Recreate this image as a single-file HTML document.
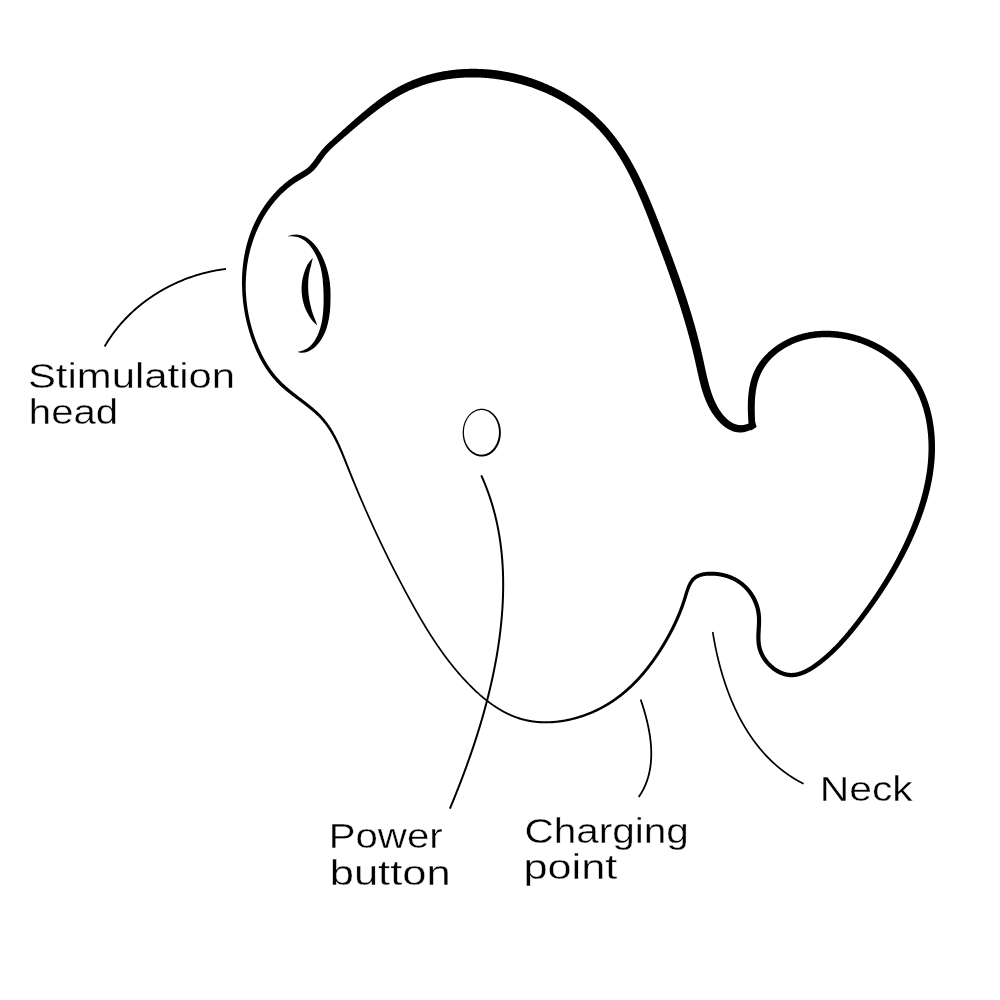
<!DOCTYPE html>
<html><head><meta charset="utf-8"><style>
html,body{margin:0;padding:0;background:#fff;}
svg{display:block;}
text{font-family:"Liberation Sans",sans-serif;fill:#000;stroke:#fff;stroke-width:0.35;}
.tx{will-change:transform;}
</style></head><body>
<svg width="1000" height="1000" viewBox="0 0 1000 1000">
<rect width="1000" height="1000" fill="#fff"/>
<g fill="#000">
<path fill-rule="nonzero" d="M755.24,425.28 755.21,424.58 755.18,423.89 755.15,423.19 755.12,422.50 755.09,421.80 755.06,421.11 755.04,420.42 755.01,419.72 754.99,419.03 754.97,418.34 754.94,417.65 754.91,416.96 754.89,416.27 754.86,415.58 754.84,414.89 754.82,414.20 754.80,413.51 754.79,412.82 754.78,412.13 754.77,411.44 754.76,410.75 754.75,410.07 754.75,409.38 754.75,408.69 754.75,408.01 754.76,407.32 754.76,406.64 754.78,405.95 754.79,405.27 754.81,404.59 754.83,403.90 754.85,403.22 754.87,402.54 754.90,401.86 754.93,401.18 754.96,400.50 755.00,399.82 755.04,399.14 755.09,398.46 755.14,397.79 755.19,397.11 755.25,396.44 755.31,395.76 755.38,395.09 755.45,394.42 755.53,393.75 755.61,393.08 755.69,392.41 755.78,391.74 755.88,391.07 755.98,390.41 756.09,389.75 756.20,389.08 756.32,388.42 756.44,387.77 756.57,387.11 756.70,386.46 756.84,385.80 756.99,385.15 757.14,384.50 757.30,383.86 757.47,383.21 757.64,382.57 757.82,381.93 758.00,381.30 758.19,380.66 758.39,380.03 758.60,379.41 758.81,378.78 759.03,378.16 759.25,377.54 759.49,376.93 759.73,376.32 759.98,375.71 760.23,375.11 760.50,374.51 760.77,373.92 761.04,373.33 761.32,372.74 761.61,372.15 761.91,371.57 762.22,370.99 762.53,370.42 762.85,369.84 763.18,369.28 763.51,368.71 763.86,368.15 764.21,367.60 764.57,367.05 764.93,366.50 765.30,365.96 765.68,365.42 766.07,364.88 766.46,364.35 766.86,363.82 767.26,363.30 767.67,362.78 768.09,362.27 768.51,361.76 768.94,361.26 769.38,360.76 769.82,360.26 770.27,359.77 770.72,359.29 771.18,358.80 771.64,358.33 772.11,357.86 772.59,357.39 773.07,356.93 773.56,356.48 774.05,356.03 774.54,355.58 775.05,355.14 775.55,354.71 776.06,354.28 776.58,353.85 777.10,353.43 777.62,353.02 778.15,352.61 778.68,352.20 779.21,351.80 779.75,351.41 780.30,351.02 780.85,350.63 781.40,350.26 781.96,349.88 782.52,349.52 783.08,349.16 783.65,348.80 784.22,348.45 784.79,348.10 785.37,347.76 785.95,347.43 786.53,347.10 787.12,346.77 787.71,346.45 788.30,346.14 788.90,345.83 789.50,345.53 790.10,345.23 790.70,344.94 791.31,344.65 791.92,344.37 792.53,344.09 793.14,343.82 793.76,343.56 794.38,343.30 795.00,343.05 795.62,342.80 796.25,342.56 796.88,342.32 797.51,342.09 798.14,341.86 798.77,341.64 799.41,341.43 800.05,341.22 800.69,341.01 801.33,340.81 801.98,340.62 802.62,340.43 803.27,340.25 803.92,340.08 804.57,339.91 805.22,339.74 805.87,339.58 806.53,339.43 807.19,339.28 807.84,339.13 808.50,338.99 809.16,338.86 809.83,338.73 810.49,338.61 811.15,338.49 811.82,338.38 812.48,338.28 813.15,338.18 813.82,338.08 814.49,337.99 815.15,337.90 815.83,337.82 816.50,337.75 817.17,337.68 817.84,337.62 818.51,337.56 819.19,337.50 819.86,337.45 820.53,337.41 821.21,337.37 821.88,337.34 822.56,337.31 823.23,337.29 823.91,337.27 824.59,337.25 825.26,337.24 825.94,337.24 826.62,337.24 827.29,337.25 827.97,337.26 828.65,337.27 829.32,337.29 830.00,337.32 830.68,337.35 831.35,337.38 832.03,337.42 832.71,337.47 833.38,337.52 834.06,337.57 834.73,337.63 835.41,337.69 836.08,337.76 836.76,337.83 837.43,337.91 838.10,337.99 838.78,338.08 839.45,338.17 840.12,338.26 840.79,338.36 841.46,338.47 842.13,338.57 842.80,338.69 843.47,338.80 844.14,338.93 844.81,339.05 845.47,339.18 846.14,339.32 846.80,339.46 847.47,339.60 848.13,339.75 848.79,339.90 849.45,340.05 850.11,340.22 850.77,340.38 851.43,340.55 852.09,340.72 852.74,340.90 853.40,341.08 854.05,341.27 854.71,341.46 855.36,341.65 856.01,341.85 856.66,342.05 857.30,342.26 857.95,342.47 858.60,342.68 859.24,342.90 859.88,343.12 860.52,343.35 861.16,343.58 861.80,343.81 862.44,344.05 863.07,344.29 863.71,344.54 864.34,344.79 864.97,345.04 865.60,345.30 866.23,345.56 866.85,345.83 867.48,346.10 868.10,346.37 868.72,346.65 869.34,346.93 869.96,347.22 870.57,347.51 871.19,347.80 871.80,348.10 872.41,348.40 873.02,348.70 873.62,349.01 874.23,349.32 874.83,349.64 875.43,349.95 876.03,350.28 876.62,350.60 877.22,350.94 877.81,351.27 878.40,351.61 878.99,351.95 879.57,352.29 880.16,352.64 880.74,353.00 881.31,353.35 881.89,353.71 882.46,354.08 883.04,354.44 883.61,354.81 884.17,355.19 884.74,355.57 885.30,355.95 885.86,356.33 886.41,356.72 886.97,357.12 887.52,357.51 888.07,357.91 888.61,358.32 889.16,358.72 889.70,359.13 890.23,359.55 890.77,359.97 891.30,360.39 891.83,360.81 892.36,361.24 892.88,361.67 893.40,362.11 893.92,362.54 894.43,362.99 894.94,363.43 895.45,363.88 895.95,364.33 896.45,364.79 896.95,365.25 897.44,365.71 897.94,366.18 898.42,366.65 898.91,367.12 899.39,367.60 899.87,368.08 900.34,368.56 900.81,369.05 901.28,369.54 901.74,370.03 902.20,370.53 902.65,371.03 903.11,371.53 903.55,372.04 904.00,372.55 904.44,373.06 904.87,373.57 905.31,374.09 905.73,374.62 906.16,375.14 906.58,375.67 906.99,376.20 907.40,376.74 907.81,377.28 908.21,377.82 908.61,378.36 909.01,378.91 909.40,379.46 909.78,380.01 910.16,380.57 910.54,381.13 910.91,381.69 911.28,382.26 911.65,382.83 912.01,383.40 912.37,383.98 912.72,384.55 913.07,385.13 913.41,385.71 913.75,386.30 914.08,386.89 914.41,387.48 914.74,388.07 915.06,388.67 915.38,389.26 915.70,389.86 916.01,390.47 916.31,391.07 916.62,391.68 916.91,392.29 917.21,392.90 917.50,393.51 917.78,394.12 918.06,394.74 918.34,395.36 918.61,395.98 918.88,396.61 919.15,397.23 919.41,397.86 919.66,398.49 919.92,399.12 920.16,399.75 920.41,400.38 920.65,401.02 920.89,401.66 921.12,402.29 921.35,402.94 921.57,403.58 921.79,404.22 922.01,404.87 922.22,405.51 922.43,406.16 922.64,406.81 922.84,407.46 923.04,408.11 923.23,408.76 923.42,409.42 923.61,410.07 923.79,410.73 923.97,411.39 924.15,412.05 924.32,412.71 924.49,413.37 924.65,414.03 924.81,414.69 924.97,415.36 925.12,416.02 925.27,416.69 925.42,417.35 925.56,418.02 925.70,418.69 925.83,419.36 925.97,420.03 926.09,420.70 926.22,421.37 926.34,422.05 926.46,422.72 926.57,423.39 926.68,424.07 926.79,424.74 926.90,425.42 927.00,426.09 927.09,426.77 927.19,427.45 927.28,428.13 927.37,428.81 927.45,429.49 927.53,430.16 927.61,430.84 927.68,431.53 927.75,432.21 927.82,432.89 927.89,433.57 927.95,434.25 928.01,434.93 928.06,435.62 928.11,436.30 928.16,436.98 928.21,437.67 928.25,438.35 928.29,439.04 928.32,439.72 928.36,440.41 928.39,441.09 928.41,441.78 928.44,442.46 928.46,443.15 928.48,443.83 928.49,444.52 928.50,445.20 928.51,445.89 928.52,446.57 928.52,447.26 928.52,447.95 928.51,448.63 928.51,449.32 928.50,450.01 928.49,450.69 928.47,451.38 928.46,452.06 928.44,452.75 928.42,453.44 928.39,454.12 928.36,454.81 928.33,455.49 928.30,456.18 928.26,456.87 928.22,457.55 928.18,458.24 928.13,458.92 928.09,459.61 928.03,460.29 927.98,460.98 927.92,461.66 927.87,462.35 927.80,463.03 927.74,463.72 927.67,464.40 927.60,465.09 927.53,465.77 927.45,466.45 927.38,467.14 927.29,467.82 927.21,468.50 927.13,469.18 927.04,469.87 926.94,470.55 926.85,471.23 926.75,471.91 926.65,472.59 926.55,473.27 926.44,473.95 926.33,474.63 926.22,475.31 926.11,475.99 925.99,476.67 925.87,477.35 925.75,478.03 925.63,478.71 925.51,479.38 925.38,480.06 925.25,480.74 925.12,481.41 924.99,482.09 924.86,482.77 924.72,483.44 924.58,484.12 924.44,484.79 924.29,485.47 924.15,486.14 924.00,486.81 923.85,487.49 923.70,488.16 923.54,488.83 923.38,489.50 923.23,490.18 923.06,490.85 922.90,491.52 922.73,492.19 922.57,492.86 922.40,493.53 922.22,494.19 922.05,494.86 921.87,495.53 921.69,496.20 921.51,496.86 921.33,497.53 921.15,498.20 920.96,498.86 920.77,499.53 920.58,500.19 920.39,500.85 920.19,501.52 920.00,502.18 919.80,502.84 919.60,503.51 919.40,504.17 919.19,504.83 918.99,505.49 918.78,506.15 918.57,506.81 918.36,507.47 918.15,508.12 917.93,508.78 917.71,509.44 917.50,510.10 917.28,510.75 917.05,511.41 916.83,512.06 916.60,512.72 916.38,513.37 916.15,514.02 915.92,514.68 915.69,515.33 915.45,515.98 915.22,516.63 914.98,517.28 914.74,517.93 914.50,518.58 914.26,519.23 914.01,519.88 913.77,520.53 913.52,521.18 913.27,521.83 913.03,522.47 912.77,523.12 912.52,523.76 912.27,524.41 912.01,525.05 911.75,525.70 911.50,526.34 911.24,526.98 910.97,527.63 910.71,528.27 910.45,528.91 910.18,529.55 909.91,530.19 909.64,530.83 909.37,531.47 909.10,532.11 908.83,532.75 908.56,533.38 908.28,534.02 908.00,534.66 907.73,535.29 907.45,535.93 907.17,536.56 906.88,537.20 906.60,537.83 906.31,538.46 906.03,539.10 905.74,539.73 905.45,540.36 905.16,540.99 904.87,541.62 904.58,542.25 904.28,542.88 903.99,543.51 903.69,544.13 903.39,544.76 903.09,545.39 902.79,546.01 902.49,546.64 902.19,547.26 901.88,547.89 901.58,548.51 901.27,549.13 900.96,549.76 900.65,550.38 900.34,551.00 900.03,551.62 899.72,552.24 899.41,552.86 899.09,553.48 898.78,554.10 898.46,554.72 898.14,555.34 897.82,555.95 897.50,556.57 897.18,557.18 896.86,557.80 896.54,558.41 896.21,559.03 895.88,559.64 895.56,560.26 895.23,560.87 894.90,561.48 894.57,562.09 894.23,562.70 893.90,563.31 893.57,563.92 893.23,564.53 892.90,565.14 892.56,565.75 892.22,566.35 891.88,566.96 891.54,567.56 891.20,568.17 890.85,568.77 890.51,569.38 890.16,569.98 889.82,570.59 889.47,571.19 889.12,571.79 888.77,572.39 888.42,572.99 888.07,573.59 887.72,574.19 887.36,574.79 887.01,575.39 886.65,575.98 886.29,576.58 885.94,577.18 885.58,577.77 885.22,578.37 884.86,578.96 884.49,579.56 884.13,580.15 883.77,580.74 883.40,581.34 883.03,581.93 882.67,582.52 882.30,583.11 881.93,583.70 881.56,584.29 881.19,584.88 880.82,585.47 880.44,586.05 880.07,586.64 879.70,587.23 879.32,587.81 878.94,588.40 878.57,588.98 878.19,589.57 877.81,590.15 877.43,590.73 877.05,591.32 876.66,591.90 876.28,592.48 875.90,593.06 875.51,593.64 875.13,594.22 874.74,594.80 874.35,595.38 873.96,595.95 873.57,596.53 873.18,597.11 872.79,597.68 872.40,598.26 872.01,598.83 871.61,599.41 871.22,599.98 870.82,600.55 870.42,601.13 870.03,601.70 869.63,602.27 869.23,602.84 868.83,603.41 868.43,603.98 868.02,604.55 867.62,605.12 867.22,605.68 866.81,606.25 866.41,606.82 866.00,607.38 865.59,607.95 865.19,608.51 864.78,609.08 864.37,609.64 863.96,610.21 863.55,610.77 863.14,611.33 862.72,611.89 862.31,612.45 861.90,613.01 861.48,613.57 861.07,614.13 860.65,614.69 860.23,615.25 859.82,615.81 859.40,616.37 858.98,616.92 858.56,617.48 858.14,618.03 857.72,618.59 857.29,619.14 856.87,619.70 856.45,620.25 856.02,620.80 855.60,621.36 855.17,621.91 854.75,622.46 854.32,623.01 853.89,623.56 853.46,624.11 853.03,624.66 852.60,625.20 852.17,625.75 851.74,626.30 851.31,626.84 850.87,627.38 850.44,627.93 850.00,628.47 849.57,629.01 849.13,629.55 848.69,630.09 848.25,630.62 847.81,631.16 847.36,631.70 846.92,632.23 846.48,632.76 846.03,633.30 845.58,633.83 845.13,634.36 844.68,634.88 844.23,635.41 843.78,635.94 843.33,636.46 842.87,636.98 842.42,637.51 841.96,638.03 841.50,638.55 841.04,639.06 840.57,639.58 840.11,640.09 839.64,640.61 839.18,641.12 838.71,641.63 838.24,642.13 837.77,642.64 837.29,643.14 836.82,643.65 836.34,644.15 835.86,644.65 835.38,645.15 834.90,645.64 834.42,646.14 833.93,646.63 833.44,647.12 832.95,647.61 832.46,648.09 831.97,648.58 831.48,649.06 830.98,649.54 830.48,650.02 829.98,650.50 829.48,650.97 828.98,651.45 828.47,651.92 827.96,652.38 827.45,652.85 826.94,653.31 826.43,653.78 825.91,654.24 825.40,654.69 824.88,655.15 824.36,655.60 823.83,656.05 823.31,656.50 822.78,656.94 822.25,657.39 821.72,657.83 821.19,658.27 820.66,658.70 820.12,659.14 819.58,659.57 819.04,660.00 818.50,660.42 817.96,660.85 817.41,661.27 816.86,661.68 816.32,662.10 815.77,662.51 815.21,662.92 814.66,663.32 814.10,663.72 813.54,664.11 812.98,664.50 812.42,664.89 811.86,665.27 811.29,665.65 810.72,666.02 810.14,666.38 809.57,666.74 808.99,667.09 808.41,667.44 807.82,667.77 807.23,668.11 806.64,668.43 806.05,668.75 805.45,669.06 804.86,669.36 804.25,669.65 803.65,669.93 803.04,670.20 802.43,670.46 801.81,670.72 801.20,670.96 800.58,671.18 799.95,671.40 799.33,671.61 798.70,671.80 798.07,671.98 797.44,672.14 796.80,672.29 796.17,672.43 795.53,672.55 794.89,672.65 794.25,672.74 793.62,672.81 792.98,672.86 792.34,672.90 791.70,672.92 791.06,672.92 790.42,672.90 789.79,672.86 789.15,672.81 788.52,672.73 787.88,672.64 787.25,672.53 786.62,672.41 785.99,672.26 785.36,672.10 784.74,671.93 784.12,671.73 783.50,671.53 782.89,671.31 782.28,671.07 781.68,670.82 781.08,670.56 780.49,670.28 779.90,669.99 779.32,669.69 778.74,669.37 778.17,669.05 777.60,668.71 777.04,668.36 776.49,668.00 775.94,667.63 775.40,667.25 774.87,666.85 774.34,666.45 773.83,666.04 773.32,665.62 772.81,665.18 772.32,664.74 771.83,664.29 771.35,663.84 770.87,663.37 770.41,662.90 769.95,662.42 769.50,661.93 769.06,661.43 768.63,660.92 768.21,660.41 767.80,659.89 767.40,659.36 767.00,658.83 766.62,658.29 766.24,657.74 765.88,657.19 765.52,656.63 765.18,656.07 764.85,655.50 764.53,654.92 764.21,654.34 763.91,653.75 763.63,653.15 763.35,652.56 763.09,651.95 762.84,651.35 762.60,650.73 762.37,650.12 762.16,649.50 761.96,648.87 761.78,648.25 761.61,647.62 761.45,646.98 761.31,646.34 761.18,645.70 761.07,645.05 760.96,644.40 760.87,643.74 760.79,643.09 760.72,642.42 760.67,641.76 760.62,641.09 760.58,640.42 760.55,639.75 760.53,639.07 760.51,638.40 760.51,637.72 760.51,637.04 760.51,636.36 760.52,635.67 760.54,634.99 760.56,634.30 760.59,633.61 760.62,632.92 760.65,632.23 760.69,631.54 760.72,630.85 760.76,630.15 760.80,629.45 760.84,628.75 760.88,628.05 760.92,627.35 760.96,626.65 760.99,625.94 761.03,625.23 761.06,624.52 761.08,623.81 761.11,623.10 761.13,622.39 761.14,621.67 761.15,620.95 761.15,620.23 761.14,619.51 761.13,618.78 761.10,618.06 761.07,617.33 761.03,616.60 760.98,615.88 760.91,615.15 760.84,614.42 760.75,613.69 760.66,612.96 760.55,612.24 760.43,611.51 760.30,610.79 760.15,610.07 760.00,609.36 759.83,608.64 759.66,607.93 759.47,607.22 759.28,606.52 759.07,605.82 758.85,605.12 758.62,604.42 758.38,603.73 758.13,603.04 757.87,602.36 757.60,601.68 757.32,601.00 757.02,600.33 756.72,599.66 756.41,599.00 756.09,598.35 755.76,597.69 755.42,597.05 755.07,596.40 754.70,595.77 754.33,595.14 753.95,594.51 753.55,593.90 753.15,593.29 752.74,592.68 752.32,592.08 751.89,591.49 751.45,590.91 751.00,590.33 750.54,589.76 750.08,589.20 749.60,588.64 749.12,588.09 748.63,587.55 748.13,587.01 747.62,586.49 747.11,585.97 746.59,585.45 746.07,584.94 745.53,584.44 744.99,583.95 744.44,583.47 743.88,583.00 743.32,582.53 742.75,582.07 742.17,581.63 741.58,581.19 740.99,580.76 740.39,580.34 739.78,579.93 739.17,579.53 738.55,579.14 737.92,578.76 737.29,578.39 736.65,578.03 736.01,577.68 735.36,577.34 734.71,577.01 734.05,576.69 733.39,576.38 732.72,576.08 732.05,575.80 731.37,575.52 730.69,575.25 730.01,575.00 729.33,574.75 728.64,574.51 727.94,574.29 727.25,574.07 726.55,573.86 725.85,573.66 725.15,573.48 724.44,573.30 723.74,573.13 723.03,572.97 722.32,572.82 721.60,572.68 720.89,572.55 720.17,572.43 719.46,572.31 718.74,572.21 718.02,572.12 717.30,572.03 716.58,571.95 715.86,571.89 715.13,571.83 714.41,571.78 713.69,571.74 712.96,571.71 712.24,571.68 711.51,571.67 710.79,571.67 710.06,571.68 709.33,571.70 708.60,571.73 707.87,571.77 707.14,571.82 706.41,571.89 705.68,571.97 704.95,572.06 704.21,572.17 703.48,572.30 702.75,572.44 702.02,572.60 701.29,572.78 700.56,572.98 699.84,573.21 699.12,573.45 698.41,573.72 697.70,574.02 697.00,574.35 696.31,574.70 695.64,575.08 694.98,575.49 694.33,575.93 693.70,576.40 693.10,576.91 692.51,577.44 691.96,577.99 691.43,578.58 690.94,579.18 690.47,579.80 690.04,580.43 689.63,581.06 689.24,581.71 688.88,582.36 688.53,583.02 688.20,583.68 687.89,584.35 687.58,585.01 687.29,585.68 687.01,586.35 686.74,587.03 686.48,587.70 686.23,588.38 685.99,589.05 685.76,589.73 685.53,590.41 685.31,591.09 685.10,591.77 684.89,592.44 684.68,593.12 684.48,593.80 684.28,594.47 684.08,595.14 683.88,595.81 683.68,596.48 683.48,597.15 683.28,597.82 683.08,598.48 682.87,599.14 682.66,599.80 682.45,600.47 682.24,601.13 682.02,601.78 681.80,602.44 681.58,603.10 681.36,603.76 681.13,604.41 680.90,605.07 680.67,605.72 680.44,606.38 680.20,607.03 679.96,607.68 679.72,608.33 679.48,608.98 679.23,609.63 678.98,610.28 678.73,610.92 678.47,611.57 678.22,612.21 677.96,612.86 677.70,613.50 677.43,614.14 677.17,614.79 676.90,615.43 676.63,616.06 676.35,616.70 676.08,617.34 675.80,617.98 675.52,618.61 675.24,619.25 674.95,619.88 674.67,620.52 674.38,621.15 674.09,621.78 673.79,622.41 673.50,623.04 673.20,623.67 672.90,624.29 672.60,624.92 672.30,625.55 671.99,626.17 671.68,626.79 671.37,627.42 671.06,628.04 670.75,628.66 670.43,629.28 670.12,629.90 669.80,630.52 669.48,631.13 669.15,631.75 668.83,632.37 668.50,632.98 668.17,633.59 667.84,634.21 667.51,634.82 667.18,635.43 666.84,636.04 666.51,636.65 666.17,637.26 665.83,637.87 665.49,638.47 665.15,639.08 664.80,639.68 664.45,640.29 664.10,640.89 663.75,641.49 663.40,642.09 663.05,642.69 662.69,643.29 662.34,643.89 661.98,644.49 661.62,645.08 661.26,645.68 660.90,646.27 660.53,646.87 660.17,647.46 659.80,648.05 659.43,648.64 659.06,649.23 658.68,649.82 658.31,650.40 657.93,650.99 657.56,651.57 657.18,652.16 656.80,652.74 656.41,653.32 656.03,653.90 655.64,654.48 655.25,655.05 654.86,655.63 654.47,656.21 654.08,656.78 653.68,657.35 653.29,657.92 652.89,658.49 652.49,659.06 652.08,659.63 651.68,660.19 651.27,660.76 650.87,661.32 650.46,661.88 650.04,662.44 649.63,663.00 649.21,663.56 648.80,664.11 648.38,664.67 647.96,665.22 647.53,665.77 647.11,666.32 646.68,666.87 646.25,667.42 645.82,667.96 645.39,668.50 644.95,669.05 644.51,669.59 644.08,670.13 643.63,670.66 643.19,671.20 642.75,671.73 642.30,672.26 641.85,672.79 641.40,673.32 640.95,673.85 640.49,674.37 640.03,674.89 639.57,675.42 639.11,675.93 638.65,676.45 638.18,676.97 637.72,677.48 637.25,677.99 636.77,678.50 636.30,679.01 635.82,679.51 635.35,680.02 634.87,680.52 634.38,681.02 633.90,681.51 633.41,682.01 632.92,682.50 632.43,682.99 631.94,683.48 631.44,683.96 630.95,684.45 630.45,684.93 629.94,685.41 629.44,685.88 628.93,686.36 628.43,686.83 627.91,687.30 627.40,687.77 626.89,688.23 626.37,688.70 625.85,689.16 625.33,689.62 624.81,690.07 624.29,690.53 623.76,690.98 623.23,691.43 622.70,691.87 622.17,692.32 621.63,692.76 621.09,693.19 620.55,693.63 620.01,694.06 619.47,694.49 618.92,694.92 618.37,695.34 617.82,695.76 617.27,696.18 616.72,696.60 616.16,697.01 615.60,697.42 615.04,697.83 614.47,698.23 613.91,698.63 613.34,699.03 612.77,699.43 612.20,699.82 611.62,700.21 611.05,700.59 610.47,700.97 609.89,701.35 609.31,701.73 608.72,702.10 608.14,702.47 607.55,702.84 606.96,703.20 606.37,703.56 605.77,703.92 605.18,704.27 604.58,704.62 603.98,704.97 603.38,705.32 602.77,705.66 602.17,705.99 601.56,706.33 600.95,706.66 600.34,706.98 599.73,707.31 599.11,707.63 598.49,707.94 597.87,708.25 597.25,708.56 596.63,708.87 596.01,709.17 595.38,709.47 594.75,709.76 594.12,710.05 593.49,710.34 592.86,710.63 592.23,710.91 591.59,711.19 590.95,711.46 590.31,711.73 589.67,712.00 589.03,712.26 588.39,712.52 587.75,712.78 587.10,713.03 586.45,713.28 585.80,713.53 585.15,713.77 584.50,714.01 583.85,714.24 583.20,714.48 582.54,714.70 581.89,714.93 581.23,715.15 580.57,715.37 579.91,715.58 579.25,715.79 578.59,716.00 577.93,716.21 577.26,716.41 576.60,716.61 575.93,716.80 575.26,716.99 574.60,717.18 573.93,717.36 573.26,717.54 572.59,717.72 571.91,717.89 571.24,718.06 570.57,718.22 569.89,718.38 569.22,718.54 568.54,718.69 567.86,718.84 567.18,718.98 566.50,719.12 565.82,719.26 565.14,719.39 564.46,719.52 563.78,719.64 563.09,719.76 562.41,719.87 561.73,719.98 561.04,720.08 560.35,720.19 559.67,720.28 558.98,720.37 558.29,720.46 557.60,720.55 556.91,720.63 556.23,720.70 555.54,720.77 554.85,720.84 554.15,720.90 553.46,720.96 552.77,721.01 552.08,721.06 551.39,721.10 550.70,721.14 550.01,721.17 549.31,721.20 548.62,721.23 547.93,721.25 547.23,721.26 546.54,721.27 545.85,721.28 545.16,721.28 544.46,721.28 543.77,721.27 543.08,721.25 542.39,721.23 541.69,721.21 541.00,721.18 540.31,721.14 539.62,721.10 538.93,721.06 538.24,721.01 537.55,720.95 536.86,720.89 536.17,720.82 535.48,720.75 534.79,720.67 534.11,720.59 533.42,720.50 532.73,720.41 532.05,720.31 531.36,720.21 530.68,720.10 530.00,719.98 529.32,719.86 528.64,719.73 527.96,719.60 527.28,719.46 526.61,719.31 525.93,719.16 525.26,719.00 524.59,718.84 523.92,718.67 523.25,718.50 522.58,718.32 521.91,718.13 521.25,717.94 520.58,717.75 519.92,717.54 519.26,717.33 518.61,717.12 517.95,716.90 517.29,716.68 516.64,716.45 515.99,716.21 515.34,715.97 514.69,715.72 514.05,715.47 513.41,715.22 512.76,714.95 512.12,714.69 511.49,714.42 510.85,714.14 510.22,713.86 509.59,713.57 508.96,713.28 508.33,712.99 507.70,712.69 507.08,712.39 506.46,712.08 505.84,711.77 505.22,711.45 504.61,711.13 503.99,710.80 503.38,710.47 502.77,710.14 502.17,709.80 501.56,709.46 500.96,709.11 500.36,708.76 499.76,708.41 499.17,708.05 498.57,707.69 497.98,707.32 497.39,706.96 496.81,706.58 496.22,706.21 495.64,705.83 495.06,705.44 494.48,705.06 493.91,704.67 493.33,704.27 492.76,703.88 492.19,703.48 491.63,703.08 491.06,702.67 490.50,702.26 489.94,701.85 489.38,701.44 488.82,701.02 488.26,700.60 487.71,700.18 487.16,699.75 486.61,699.32 486.07,698.89 485.52,698.45 484.98,698.02 484.44,697.58 483.90,697.13 483.37,696.69 482.84,696.24 482.30,695.79 481.77,695.34 481.25,694.89 480.72,694.43 480.20,693.97 479.67,693.51 479.15,693.05 478.63,692.58 478.12,692.11 477.60,691.64 477.09,691.17 476.58,690.70 476.07,690.22 475.56,689.75 475.05,689.27 474.55,688.79 474.05,688.30 473.54,687.82 473.05,687.33 472.55,686.84 472.05,686.35 471.56,685.86 471.06,685.37 470.57,684.87 470.08,684.38 469.59,683.88 469.11,683.38 468.62,682.88 468.14,682.37 467.66,681.87 467.18,681.36 466.70,680.86 466.22,680.35 465.74,679.84 465.27,679.33 464.79,678.82 464.32,678.30 463.85,677.79 463.38,677.27 462.91,676.75 462.45,676.23 461.98,675.71 461.52,675.19 461.06,674.67 460.60,674.14 460.14,673.62 459.68,673.09 459.22,672.56 458.77,672.03 458.31,671.50 457.86,670.97 457.41,670.44 456.96,669.91 456.51,669.37 456.06,668.83 455.62,668.30 455.17,667.76 454.73,667.22 454.29,666.68 453.85,666.14 453.41,665.59 452.97,665.05 452.54,664.50 452.10,663.96 451.67,663.41 451.24,662.86 450.80,662.31 450.37,661.76 449.95,661.21 449.52,660.66 449.09,660.11 448.67,659.55 448.24,659.00 447.82,658.44 447.40,657.88 446.98,657.33 446.56,656.77 446.15,656.21 445.73,655.64 445.32,655.08 444.90,654.52 444.49,653.96 444.08,653.39 443.67,652.83 443.26,652.26 442.85,651.69 442.45,651.12 442.04,650.56 441.64,649.99 441.23,649.42 440.83,648.84 440.43,648.27 440.03,647.70 439.63,647.12 439.24,646.55 438.84,645.97 438.45,645.40 438.05,644.82 437.66,644.24 437.27,643.67 436.88,643.09 436.49,642.51 436.10,641.93 435.71,641.34 435.32,640.76 434.94,640.18 434.55,639.60 434.17,639.01 433.79,638.43 433.41,637.84 433.03,637.26 432.65,636.67 432.27,636.08 431.89,635.49 431.51,634.91 431.14,634.32 430.76,633.73 430.39,633.14 430.01,632.54 429.64,631.95 429.27,631.36 428.90,630.77 428.53,630.17 428.16,629.58 427.80,628.99 427.43,628.39 427.06,627.80 426.70,627.20 426.33,626.60 425.97,626.01 425.61,625.41 425.25,624.81 424.88,624.21 424.52,623.61 424.16,623.01 423.81,622.41 423.45,621.81 423.09,621.21 422.73,620.61 422.38,620.01 422.02,619.41 421.67,618.80 421.32,618.20 420.96,617.60 420.61,616.99 420.26,616.39 419.91,615.78 419.56,615.18 419.21,614.57 418.86,613.97 418.51,613.36 418.16,612.75 417.82,612.15 417.47,611.54 417.12,610.93 416.78,610.32 416.43,609.71 416.09,609.10 415.74,608.50 415.40,607.89 415.06,607.28 414.72,606.67 414.38,606.06 414.03,605.44 413.69,604.83 413.35,604.22 413.01,603.61 412.68,603.00 412.34,602.39 412.00,601.77 411.66,601.16 411.32,600.55 410.99,599.93 410.65,599.32 410.31,598.71 409.98,598.09 409.64,597.48 409.31,596.87 408.97,596.25 408.64,595.64 408.31,595.02 407.97,594.41 407.64,593.79 407.31,593.17 406.98,592.56 406.64,591.94 406.31,591.33 405.98,590.71 405.65,590.09 405.32,589.48 404.99,588.86 404.66,588.24 404.33,587.62 404.00,587.01 403.68,586.39 403.35,585.77 403.02,585.15 402.69,584.53 402.37,583.92 402.04,583.30 401.71,582.68 401.39,582.06 401.06,581.44 400.74,580.82 400.41,580.20 400.09,579.58 399.77,578.96 399.44,578.34 399.12,577.72 398.80,577.10 398.47,576.48 398.15,575.85 397.83,575.23 397.51,574.61 397.19,573.99 396.87,573.37 396.55,572.74 396.23,572.12 395.91,571.50 395.59,570.88 395.27,570.25 394.96,569.63 394.64,569.01 394.32,568.38 394.00,567.76 393.69,567.14 393.37,566.51 393.06,565.89 392.74,565.26 392.42,564.64 392.11,564.01 391.80,563.39 391.48,562.76 391.17,562.14 390.86,561.51 390.54,560.88 390.23,560.26 389.92,559.63 389.61,559.00 389.30,558.38 388.99,557.75 388.68,557.12 388.37,556.50 388.06,555.87 387.75,555.24 387.44,554.61 387.13,553.99 386.82,553.36 386.51,552.73 386.21,552.10 385.90,551.47 385.59,550.84 385.29,550.21 384.98,549.58 384.68,548.95 384.37,548.32 384.07,547.69 383.76,547.06 383.46,546.43 383.15,545.80 382.85,545.17 382.55,544.54 382.25,543.91 381.94,543.28 381.64,542.65 381.34,542.02 381.04,541.39 380.74,540.75 380.44,540.12 380.14,539.49 379.84,538.86 379.54,538.22 379.24,537.59 378.94,536.96 378.65,536.33 378.35,535.69 378.05,535.06 377.76,534.42 377.46,533.79 377.16,533.16 376.87,532.52 376.57,531.89 376.28,531.25 375.98,530.62 375.69,529.98 375.39,529.35 375.10,528.71 374.81,528.08 374.52,527.44 374.22,526.81 373.93,526.17 373.64,525.53 373.35,524.90 373.06,524.26 372.77,523.63 372.48,522.99 372.19,522.35 371.90,521.71 371.61,521.08 371.32,520.44 371.03,519.80 370.75,519.16 370.46,518.53 370.17,517.89 369.88,517.25 369.60,516.61 369.31,515.97 369.03,515.33 368.74,514.69 368.46,514.06 368.17,513.42 367.89,512.78 367.60,512.14 367.32,511.50 367.04,510.86 366.76,510.22 366.47,509.58 366.19,508.94 365.91,508.29 365.63,507.65 365.35,507.01 365.08,506.37 364.80,505.73 364.52,505.09 364.24,504.44 363.96,503.80 363.69,503.16 363.41,502.52 363.13,501.87 362.86,501.23 362.58,500.59 362.31,499.94 362.03,499.30 361.76,498.66 361.48,498.01 361.21,497.37 360.94,496.72 360.66,496.08 360.39,495.44 360.12,494.79 359.85,494.15 359.57,493.50 359.30,492.86 359.03,492.21 358.76,491.57 358.49,490.92 358.22,490.28 357.95,489.63 357.68,488.98 357.42,488.34 357.15,487.69 356.88,487.04 356.62,486.40 356.35,485.75 356.08,485.10 355.82,484.45 355.55,483.81 355.29,483.16 355.02,482.51 354.76,481.86 354.50,481.21 354.23,480.57 353.97,479.92 353.71,479.27 353.45,478.62 353.18,477.97 352.92,477.32 352.66,476.67 352.40,476.02 352.14,475.37 351.88,474.73 351.62,474.08 351.36,473.43 351.10,472.78 350.84,472.13 350.58,471.48 350.33,470.82 350.07,470.17 349.81,469.52 349.55,468.87 349.30,468.22 349.04,467.57 348.79,466.92 348.53,466.27 348.28,465.62 348.02,464.96 347.77,464.31 347.51,463.66 347.26,463.01 347.00,462.35 346.75,461.70 346.49,461.05 346.23,460.40 345.98,459.75 345.72,459.09 345.46,458.44 345.20,457.79 344.94,457.14 344.68,456.49 344.42,455.84 344.16,455.18 343.89,454.53 343.63,453.88 343.36,453.23 343.09,452.58 342.83,451.93 342.56,451.29 342.28,450.64 342.01,449.99 341.74,449.34 341.46,448.70 341.18,448.05 340.90,447.40 340.62,446.76 340.34,446.11 340.05,445.47 339.77,444.83 339.48,444.18 339.19,443.54 338.89,442.90 338.60,442.26 338.30,441.62 338.00,440.99 337.69,440.35 337.38,439.72 337.07,439.08 336.76,438.45 336.44,437.82 336.12,437.19 335.79,436.56 335.47,435.94 335.13,435.31 334.80,434.69 334.46,434.07 334.12,433.45 333.77,432.83 333.42,432.22 333.07,431.60 332.71,430.99 332.35,430.38 331.98,429.78 331.61,429.17 331.24,428.57 330.86,427.97 330.47,427.37 330.08,426.78 329.69,426.19 329.29,425.60 328.89,425.01 328.48,424.43 328.07,423.85 327.65,423.27 327.23,422.70 326.81,422.13 326.37,421.56 325.94,421.00 325.50,420.44 325.05,419.89 324.60,419.34 324.14,418.79 323.68,418.25 323.21,417.71 322.73,417.17 322.26,416.65 321.77,416.12 321.29,415.60 320.80,415.08 320.30,414.57 319.80,414.06 319.30,413.56 318.79,413.06 318.28,412.57 317.77,412.08 317.25,411.59 316.73,411.10 316.21,410.62 315.69,410.15 315.16,409.67 314.63,409.20 314.10,408.74 313.56,408.27 313.02,407.81 312.48,407.35 311.94,406.90 311.40,406.45 310.86,406.00 310.31,405.55 309.76,405.10 309.22,404.66 308.67,404.22 308.12,403.78 307.56,403.34 307.01,402.90 306.46,402.47 305.90,402.03 305.35,401.60 304.79,401.17 304.24,400.74 303.68,400.31 303.13,399.88 302.57,399.46 302.01,399.03 301.46,398.60 300.90,398.18 300.34,397.75 299.79,397.33 299.23,396.90 298.68,396.48 298.12,396.05 297.57,395.63 297.01,395.20 296.46,394.77 295.91,394.35 295.36,393.92 294.81,393.49 294.26,393.06 293.71,392.63 293.17,392.20 292.62,391.77 292.08,391.33 291.54,390.90 291.00,390.46 290.46,390.02 289.92,389.58 289.39,389.14 288.85,388.70 288.32,388.25 287.80,387.81 287.27,387.36 286.75,386.91 286.22,386.45 285.71,386.00 285.19,385.54 284.68,385.07 284.17,384.61 283.67,384.14 283.16,383.67 282.66,383.20 282.17,382.72 281.68,382.24 281.19,381.75 280.71,381.27 280.22,380.78 279.75,380.28 279.27,379.79 278.80,379.29 278.34,378.78 277.87,378.27 277.42,377.76 276.96,377.25 276.51,376.73 276.06,376.21 275.62,375.68 275.18,375.15 274.74,374.62 274.31,374.09 273.88,373.55 273.46,373.01 273.04,372.46 272.62,371.92 272.21,371.37 271.80,370.81 271.39,370.26 270.99,369.70 270.59,369.14 270.20,368.57 269.81,368.00 269.42,367.43 269.04,366.86 268.66,366.29 268.28,365.71 267.91,365.13 267.54,364.55 267.18,363.96 266.82,363.37 266.46,362.79 266.11,362.19 265.76,361.60 265.41,361.00 265.07,360.40 264.73,359.80 264.39,359.20 264.06,358.60 263.73,357.99 263.40,357.38 263.08,356.77 262.76,356.16 262.45,355.55 262.13,354.93 261.82,354.31 261.52,353.69 261.22,353.07 260.92,352.45 260.62,351.82 260.33,351.20 260.04,350.57 259.75,349.94 259.47,349.31 259.19,348.68 258.91,348.04 258.64,347.41 258.36,346.77 258.10,346.13 257.83,345.50 257.57,344.85 257.31,344.21 257.05,343.57 256.80,342.93 256.55,342.28 256.30,341.63 256.06,340.99 255.81,340.34 255.57,339.69 255.34,339.04 255.10,338.38 254.87,337.73 254.64,337.08 254.42,336.42 254.19,335.77 253.97,335.11 253.76,334.45 253.54,333.79 253.33,333.13 253.12,332.47 252.92,331.81 252.71,331.15 252.51,330.49 252.31,329.82 252.12,329.16 251.93,328.49 251.74,327.82 251.55,327.16 251.37,326.49 251.18,325.82 251.01,325.15 250.83,324.48 250.66,323.81 250.49,323.14 250.32,322.47 250.16,321.79 250.00,321.12 249.84,320.44 249.68,319.77 249.53,319.09 249.38,318.42 249.23,317.74 249.09,317.06 248.95,316.38 248.81,315.70 248.67,315.03 248.54,314.35 248.41,313.66 248.28,312.98 248.16,312.30 248.04,311.62 247.92,310.94 247.80,310.25 247.69,309.57 247.58,308.89 247.48,308.20 247.38,307.52 247.28,306.83 247.18,306.14 247.09,305.46 247.00,304.77 246.91,304.08 246.83,303.40 246.75,302.71 246.67,302.02 246.59,301.33 246.52,300.64 246.45,299.95 246.38,299.27 246.32,298.58 246.26,297.89 246.20,297.20 246.15,296.51 246.10,295.81 246.05,295.12 246.00,294.43 245.96,293.74 245.92,293.05 245.88,292.36 245.85,291.67 245.82,290.98 245.79,290.28 245.77,289.59 245.76,288.90 245.75,288.21 245.74,287.52 245.74,286.82 245.74,286.13 245.74,285.44 245.74,284.75 245.75,284.06 245.76,283.36 245.78,282.67 245.79,281.98 245.82,281.29 245.84,280.60 245.87,279.91 245.90,279.22 245.93,278.53 245.97,277.84 246.01,277.15 246.05,276.46 246.10,275.77 246.14,275.08 246.20,274.39 246.25,273.70 246.31,273.01 246.37,272.32 246.44,271.64 246.50,270.95 246.58,270.26 246.65,269.58 246.73,268.89 246.81,268.20 246.89,267.52 246.98,266.83 247.07,266.15 247.17,265.47 247.26,264.78 247.36,264.10 247.47,263.42 247.57,262.74 247.69,262.06 247.80,261.38 247.92,260.70 248.04,260.02 248.16,259.34 248.29,258.66 248.42,257.98 248.55,257.31 248.69,256.63 248.83,255.96 248.97,255.28 249.12,254.61 249.27,253.94 249.43,253.27 249.59,252.60 249.75,251.93 249.92,251.26 250.09,250.59 250.26,249.93 250.44,249.26 250.61,248.60 250.80,247.93 250.98,247.27 251.17,246.61 251.37,245.95 251.56,245.29 251.76,244.63 251.97,243.98 252.17,243.32 252.38,242.67 252.60,242.01 252.81,241.36 253.03,240.71 253.26,240.06 253.48,239.41 253.71,238.76 253.94,238.12 254.17,237.47 254.41,236.83 254.65,236.18 254.89,235.54 255.14,234.90 255.39,234.26 255.65,233.62 255.90,232.99 256.17,232.35 256.43,231.72 256.70,231.09 256.97,230.46 257.25,229.83 257.52,229.20 257.80,228.58 258.09,227.95 258.37,227.33 258.66,226.71 258.95,226.09 259.25,225.47 259.55,224.85 259.86,224.24 260.16,223.63 260.47,223.02 260.79,222.41 261.10,221.80 261.42,221.19 261.75,220.59 262.08,219.99 262.41,219.39 262.74,218.79 263.08,218.20 263.42,217.60 263.77,217.01 264.11,216.42 264.47,215.83 264.82,215.25 265.18,214.66 265.54,214.08 265.91,213.50 266.27,212.93 266.65,212.35 267.02,211.78 267.40,211.21 267.78,210.64 268.17,210.08 268.55,209.51 268.95,208.95 269.34,208.39 269.74,207.84 270.14,207.28 270.55,206.73 270.95,206.18 271.36,205.64 271.78,205.09 272.20,204.55 272.62,204.01 273.04,203.48 273.47,202.94 273.90,202.41 274.33,201.89 274.77,201.36 275.21,200.84 275.65,200.32 276.10,199.80 276.55,199.29 277.00,198.78 277.46,198.27 277.92,197.77 278.38,197.27 278.85,196.77 279.31,196.27 279.78,195.78 280.25,195.28 280.73,194.80 281.21,194.31 281.69,193.83 282.18,193.35 282.67,192.88 283.17,192.42 283.67,191.95 284.17,191.49 284.67,191.03 285.18,190.58 285.69,190.13 286.21,189.68 286.72,189.24 287.24,188.80 287.76,188.37 288.29,187.94 288.82,187.51 289.35,187.08 289.88,186.66 290.42,186.25 290.96,185.84 291.51,185.43 292.05,185.02 292.60,184.62 293.15,184.23 293.71,183.84 294.26,183.45 294.82,183.06 295.39,182.68 295.95,182.31 296.52,181.94 297.09,181.57 297.66,181.21 298.24,180.85 298.82,180.49 299.40,180.14 299.98,179.80 300.57,179.45 301.16,179.10 301.76,178.75 302.36,178.40 302.97,178.04 303.58,177.69 304.19,177.33 304.80,176.97 305.42,176.59 306.04,176.22 306.66,175.83 307.28,175.44 307.90,175.03 308.52,174.61 309.13,174.18 309.74,173.74 310.35,173.28 310.95,172.81 311.55,172.32 312.13,171.81 312.70,171.29 313.26,170.76 313.80,170.22 314.32,169.67 314.84,169.12 315.34,168.56 315.83,167.99 316.30,167.42 316.77,166.84 317.23,166.27 317.68,165.69 318.12,165.11 318.55,164.53 318.97,163.95 319.39,163.36 319.81,162.78 320.22,162.21 320.63,161.63 321.03,161.05 321.44,160.48 321.84,159.91 322.24,159.34 322.64,158.78 323.04,158.23 323.44,157.67 323.84,157.13 324.24,156.59 324.65,156.05 325.06,155.52 325.47,155.00 325.89,154.49 326.32,153.98 326.75,153.48 327.19,152.97 327.64,152.48 328.09,151.98 328.55,151.49 329.01,151.00 329.48,150.52 329.96,150.04 330.44,149.56 330.92,149.08 331.41,148.61 331.90,148.14 332.40,147.67 332.90,147.20 333.40,146.73 333.90,146.27 334.41,145.80 334.93,145.34 335.44,144.87 335.96,144.41 336.47,143.95 336.99,143.48 337.52,143.02 338.04,142.56 338.57,142.10 339.10,141.64 339.63,141.18 340.16,140.73 340.69,140.27 341.22,139.81 341.75,139.35 342.28,138.90 342.81,138.44 343.34,137.98 343.87,137.53 344.40,137.07 344.92,136.61 345.45,136.16 345.99,135.70 346.52,135.25 347.05,134.79 347.58,134.34 348.11,133.88 348.64,133.43 349.17,132.97 349.70,132.52 350.23,132.07 350.76,131.61 351.29,131.16 351.83,130.71 352.36,130.26 352.89,129.81 353.42,129.35 353.96,128.90 354.49,128.45 355.02,128.00 355.56,127.56 356.09,127.11 356.63,126.66 357.16,126.21 357.70,125.76 358.23,125.32 358.77,124.87 359.30,124.43 359.84,123.98 360.38,123.54 360.91,123.09 361.45,122.65 361.99,122.21 362.53,121.76 363.07,121.32 363.61,120.88 364.15,120.44 364.69,120.00 365.23,119.56 365.77,119.13 366.31,118.69 366.85,118.25 367.39,117.82 367.94,117.38 368.48,116.95 369.02,116.52 369.57,116.09 370.11,115.66 370.66,115.23 371.21,114.80 371.75,114.37 372.30,113.94 372.85,113.52 373.40,113.09 373.95,112.67 374.50,112.25 375.05,111.83 375.60,111.41 376.15,110.99 376.70,110.58 377.26,110.16 377.81,109.75 378.36,109.33 378.92,108.92 379.48,108.52 380.03,108.11 380.59,107.70 381.15,107.30 381.71,106.90 382.27,106.49 382.83,106.09 383.40,105.70 383.96,105.30 384.52,104.90 385.09,104.51 385.65,104.12 386.22,103.73 386.79,103.34 387.36,102.96 387.93,102.58 388.50,102.20 389.07,101.82 389.65,101.44 390.22,101.07 390.80,100.70 391.38,100.33 391.95,99.96 392.53,99.60 393.11,99.24 393.70,98.88 394.28,98.52 394.86,98.17 395.45,97.81 396.04,97.47 396.63,97.12 397.22,96.78 397.81,96.44 398.40,96.10 398.99,95.77 399.59,95.44 400.19,95.11 400.78,94.78 401.38,94.46 401.98,94.14 402.59,93.83 403.19,93.51 403.79,93.20 404.40,92.89 405.00,92.59 405.61,92.29 406.22,91.99 406.83,91.69 407.45,91.40 408.06,91.11 408.68,90.82 409.30,90.54 409.92,90.26 410.54,89.98 411.16,89.71 411.78,89.43 412.41,89.17 413.03,88.90 413.66,88.64 414.29,88.38 414.92,88.13 415.55,87.87 416.18,87.63 416.82,87.38 417.45,87.14 418.09,86.90 418.73,86.66 419.36,86.43 420.00,86.20 420.65,85.97 421.29,85.75 421.93,85.52 422.58,85.31 423.22,85.09 423.87,84.88 424.52,84.67 425.16,84.47 425.81,84.26 426.46,84.06 427.12,83.87 427.77,83.67 428.42,83.48 429.07,83.29 429.73,83.11 430.39,82.93 431.04,82.75 431.70,82.57 432.36,82.40 433.02,82.23 433.68,82.06 434.34,81.90 435.00,81.74 435.66,81.58 436.33,81.43 436.99,81.28 437.66,81.13 438.32,80.98 438.99,80.84 439.65,80.70 440.32,80.56 440.99,80.43 441.66,80.30 442.33,80.17 443.00,80.05 443.67,79.93 444.34,79.81 445.01,79.69 445.68,79.58 446.36,79.47 447.03,79.36 447.70,79.26 448.38,79.16 449.05,79.06 449.73,78.97 450.40,78.88 451.08,78.79 451.75,78.70 452.43,78.61 453.11,78.53 453.79,78.45 454.46,78.38 455.14,78.31 455.82,78.24 456.50,78.17 457.18,78.10 457.86,78.04 458.54,77.98 459.22,77.93 459.90,77.88 460.58,77.83 461.26,77.78 461.94,77.74 462.62,77.69 463.30,77.66 463.98,77.62 464.67,77.59 465.35,77.56 466.03,77.53 466.71,77.51 467.39,77.48 468.08,77.47 468.76,77.45 469.44,77.44 470.12,77.43 470.81,77.42 471.49,77.41 472.17,77.41 472.86,77.41 473.54,77.41 474.22,77.42 474.90,77.43 475.59,77.44 476.27,77.46 476.95,77.47 477.64,77.49 478.32,77.51 479.00,77.54 479.68,77.57 480.37,77.60 481.05,77.63 481.73,77.67 482.41,77.71 483.10,77.75 483.78,77.79 484.46,77.84 485.14,77.89 485.82,77.94 486.50,77.99 487.18,78.05 487.87,78.11 488.55,78.17 489.23,78.24 489.91,78.31 490.59,78.38 491.27,78.45 491.95,78.52 492.62,78.60 493.30,78.68 493.98,78.77 494.66,78.85 495.34,78.94 496.02,79.03 496.69,79.13 497.37,79.22 498.05,79.32 498.72,79.42 499.40,79.53 500.07,79.63 500.75,79.74 501.42,79.85 502.10,79.96 502.77,80.07 503.45,80.19 504.12,80.31 504.79,80.43 505.47,80.56 506.14,80.68 506.81,80.81 507.48,80.94 508.15,81.08 508.82,81.22 509.49,81.36 510.16,81.50 510.83,81.64 511.50,81.79 512.16,81.94 512.83,82.09 513.50,82.25 514.16,82.40 514.83,82.56 515.49,82.72 516.16,82.89 516.82,83.06 517.48,83.23 518.14,83.40 518.81,83.57 519.47,83.75 520.13,83.93 520.79,84.11 521.45,84.29 522.10,84.48 522.76,84.67 523.42,84.86 524.07,85.06 524.73,85.25 525.39,85.45 526.04,85.65 526.69,85.85 527.35,86.05 528.00,86.26 528.65,86.47 529.30,86.68 529.95,86.89 530.60,87.11 531.25,87.33 531.90,87.55 532.54,87.77 533.19,88.00 533.83,88.23 534.48,88.46 535.12,88.69 535.76,88.93 536.41,89.16 537.05,89.41 537.69,89.65 538.32,89.89 538.96,90.14 539.60,90.39 540.24,90.64 540.87,90.90 541.50,91.16 542.14,91.42 542.77,91.68 543.40,91.94 544.03,92.21 544.66,92.48 545.29,92.75 545.91,93.03 546.54,93.30 547.17,93.58 547.79,93.86 548.41,94.15 549.03,94.43 549.65,94.72 550.27,95.01 550.89,95.31 551.51,95.60 552.12,95.90 552.74,96.20 553.35,96.50 553.96,96.81 554.58,97.12 555.19,97.43 555.79,97.74 556.40,98.05 557.01,98.37 557.61,98.69 558.22,99.01 558.82,99.34 559.42,99.66 560.02,99.99 560.62,100.33 561.21,100.66 561.81,101.00 562.40,101.33 563.00,101.68 563.59,102.02 564.18,102.36 564.77,102.71 565.35,103.06 565.94,103.42 566.53,103.77 567.11,104.13 567.69,104.49 568.27,104.85 568.85,105.21 569.43,105.58 570.00,105.95 570.57,106.32 571.15,106.70 571.72,107.07 572.29,107.45 572.86,107.83 573.42,108.21 573.98,108.60 574.55,108.99 575.11,109.38 575.67,109.78 576.22,110.17 576.78,110.57 577.33,110.97 577.88,111.37 578.43,111.78 578.98,112.19 579.53,112.60 580.07,113.01 580.62,113.42 581.16,113.84 581.70,114.26 582.23,114.68 582.77,115.11 583.30,115.53 583.84,115.96 584.37,116.39 584.89,116.82 585.42,117.26 585.94,117.70 586.47,118.14 586.99,118.58 587.51,119.02 588.02,119.47 588.54,119.92 589.05,120.37 589.56,120.82 590.07,121.28 590.57,121.74 591.08,122.20 591.58,122.66 592.08,123.12 592.58,123.59 593.07,124.06 593.56,124.53 594.05,125.01 594.54,125.48 595.03,125.96 595.51,126.44 596.00,126.92 596.48,127.41 596.95,127.89 597.43,128.39 597.90,128.88 598.37,129.37 598.83,129.87 599.30,130.37 599.76,130.87 600.22,131.38 600.68,131.88 601.13,132.39 601.59,132.90 602.04,133.41 602.49,133.93 602.94,134.45 603.38,134.97 603.82,135.49 604.26,136.01 604.70,136.53 605.14,137.06 605.57,137.59 606.00,138.12 606.43,138.65 606.86,139.19 607.29,139.72 607.71,140.26 608.13,140.80 608.55,141.34 608.97,141.88 609.38,142.43 609.79,142.98 610.20,143.52 610.61,144.07 611.02,144.63 611.42,145.18 611.83,145.73 612.23,146.29 612.62,146.85 613.02,147.41 613.41,147.97 613.81,148.53 614.20,149.10 614.59,149.66 614.97,150.23 615.36,150.80 615.74,151.37 616.12,151.94 616.50,152.51 616.87,153.09 617.25,153.67 617.62,154.24 617.99,154.82 618.35,155.41 618.72,155.99 619.08,156.57 619.45,157.16 619.81,157.74 620.16,158.33 620.52,158.92 620.88,159.51 621.23,160.10 621.58,160.69 621.93,161.28 622.28,161.88 622.63,162.47 622.97,163.07 623.31,163.67 623.65,164.26 623.99,164.86 624.33,165.46 624.67,166.07 625.00,166.67 625.34,167.27 625.67,167.88 626.00,168.48 626.33,169.09 626.66,169.70 626.98,170.31 627.30,170.91 627.63,171.53 627.95,172.14 628.27,172.75 628.59,173.36 628.90,173.97 629.22,174.59 629.53,175.20 629.85,175.82 630.16,176.44 630.47,177.06 630.78,177.67 631.08,178.29 631.39,178.91 631.70,179.53 632.00,180.16 632.30,180.78 632.60,181.40 632.90,182.02 633.20,182.65 633.50,183.27 633.79,183.90 634.09,184.53 634.38,185.15 634.68,185.78 634.97,186.41 635.26,187.04 635.55,187.67 635.84,188.30 636.12,188.93 636.41,189.56 636.69,190.19 636.98,190.83 637.26,191.46 637.54,192.09 637.82,192.73 638.10,193.36 638.38,194.00 638.66,194.63 638.94,195.27 639.22,195.90 639.49,196.54 639.77,197.18 640.04,197.82 640.31,198.46 640.58,199.10 640.85,199.74 641.12,200.38 641.39,201.02 641.66,201.66 641.93,202.30 642.20,202.94 642.46,203.58 642.73,204.23 642.99,204.87 643.26,205.51 643.52,206.16 643.78,206.80 644.05,207.44 644.31,208.09 644.57,208.73 644.83,209.38 645.09,210.03 645.35,210.67 645.61,211.32 645.86,211.97 646.12,212.61 646.38,213.26 646.63,213.91 646.89,214.56 647.14,215.21 647.40,215.86 647.65,216.50 647.91,217.15 648.16,217.80 648.41,218.45 648.67,219.10 648.92,219.75 649.17,220.40 649.42,221.06 649.67,221.71 649.92,222.36 650.17,223.01 650.42,223.66 650.67,224.31 650.92,224.97 651.17,225.62 651.42,226.27 651.67,226.92 651.92,227.58 652.17,228.23 652.41,228.88 652.66,229.54 652.91,230.19 653.16,230.84 653.40,231.50 653.65,232.15 653.90,232.81 654.15,233.46 654.39,234.11 654.64,234.77 654.89,235.42 655.14,236.08 655.39,236.73 655.63,237.38 655.88,238.04 656.13,238.69 656.38,239.35 656.62,240.00 656.87,240.66 657.12,241.31 657.36,241.96 657.61,242.62 657.86,243.27 658.10,243.93 658.35,244.58 658.59,245.24 658.84,245.89 659.09,246.55 659.33,247.20 659.58,247.85 659.82,248.51 660.06,249.16 660.31,249.82 660.55,250.47 660.80,251.13 661.04,251.78 661.28,252.44 661.53,253.09 661.77,253.75 662.01,254.40 662.26,255.06 662.50,255.71 662.74,256.37 662.98,257.03 663.22,257.68 663.47,258.34 663.71,258.99 663.95,259.65 664.19,260.30 664.43,260.96 664.67,261.62 664.91,262.27 665.15,262.93 665.39,263.58 665.62,264.24 665.86,264.90 666.10,265.55 666.34,266.21 666.58,266.87 666.81,267.52 667.05,268.18 667.29,268.83 667.53,269.49 667.76,270.15 668.00,270.80 668.23,271.46 668.47,272.12 668.70,272.78 668.94,273.43 669.17,274.09 669.41,274.75 669.64,275.41 669.88,276.06 670.11,276.72 670.34,277.38 670.57,278.04 670.80,278.69 671.04,279.35 671.27,280.01 671.50,280.67 671.73,281.33 671.96,281.99 672.19,282.65 672.41,283.30 672.64,283.96 672.87,284.62 673.10,285.28 673.33,285.94 673.55,286.60 673.78,287.26 674.00,287.92 674.23,288.58 674.45,289.24 674.68,289.90 674.90,290.56 675.12,291.22 675.35,291.88 675.57,292.54 675.79,293.20 676.01,293.86 676.23,294.53 676.45,295.19 676.67,295.85 676.89,296.51 677.11,297.17 677.33,297.83 677.55,298.50 677.76,299.16 677.98,299.82 678.19,300.48 678.41,301.14 678.63,301.81 678.84,302.47 679.05,303.13 679.27,303.80 679.48,304.46 679.69,305.12 679.90,305.79 680.11,306.45 680.32,307.12 680.53,307.78 680.74,308.44 680.95,309.11 681.16,309.77 681.37,310.44 681.57,311.10 681.78,311.77 681.98,312.43 682.19,313.10 682.39,313.76 682.60,314.43 682.80,315.10 683.00,315.76 683.20,316.43 683.40,317.10 683.60,317.76 683.80,318.43 684.00,319.10 684.20,319.76 684.40,320.43 684.60,321.10 684.79,321.77 684.99,322.43 685.18,323.10 685.38,323.77 685.57,324.44 685.76,325.11 685.96,325.78 686.15,326.44 686.34,327.11 686.53,327.78 686.72,328.45 686.91,329.12 687.10,329.79 687.29,330.46 687.48,331.13 687.66,331.80 687.85,332.47 688.04,333.14 688.22,333.81 688.41,334.48 688.59,335.15 688.78,335.82 688.96,336.49 689.14,337.17 689.32,337.84 689.50,338.51 689.68,339.18 689.86,339.85 690.04,340.52 690.22,341.20 690.39,341.87 690.57,342.54 690.75,343.22 690.92,343.89 691.09,344.56 691.27,345.24 691.44,345.91 691.61,346.58 691.78,347.26 691.95,347.93 692.12,348.61 692.29,349.28 692.45,349.96 692.62,350.63 692.79,351.31 692.95,351.98 693.12,352.66 693.28,353.33 693.44,354.01 693.60,354.68 693.76,355.36 693.92,356.04 694.08,356.71 694.24,357.39 694.40,358.07 694.55,358.75 694.71,359.42 694.87,360.10 695.02,360.78 695.17,361.46 695.32,362.14 695.47,362.82 695.63,363.50 695.78,364.18 695.93,364.86 696.07,365.54 696.22,366.22 696.37,366.91 696.52,367.59 696.67,368.28 696.82,368.96 696.97,369.65 697.12,370.33 697.28,371.02 697.43,371.71 697.58,372.39 697.73,373.08 697.89,373.77 698.04,374.46 698.20,375.15 698.36,375.83 698.52,376.52 698.68,377.21 698.84,377.90 699.00,378.59 699.17,379.28 699.33,379.97 699.50,380.67 699.67,381.36 699.84,382.05 700.02,382.74 700.20,383.43 700.38,384.12 700.56,384.81 700.74,385.50 700.93,386.19 701.12,386.88 701.32,387.57 701.51,388.26 701.71,388.96 701.91,389.65 702.12,390.33 702.33,391.02 702.54,391.71 702.76,392.40 702.99,393.09 703.22,393.77 703.45,394.46 703.69,395.14 703.93,395.83 704.17,396.51 704.43,397.19 704.68,397.87 704.94,398.55 705.21,399.23 705.48,399.91 705.76,400.59 706.04,401.26 706.32,401.94 706.62,402.61 706.92,403.28 707.22,403.95 707.53,404.61 707.85,405.28 708.17,405.94 708.50,406.60 708.84,407.25 709.19,407.91 709.54,408.56 709.90,409.20 710.27,409.85 710.64,410.49 711.02,411.12 711.41,411.76 711.80,412.39 712.20,413.02 712.61,413.64 713.03,414.25 713.45,414.87 713.89,415.48 714.33,416.08 714.77,416.68 715.23,417.27 715.69,417.86 716.16,418.44 716.64,419.02 717.13,419.59 717.62,420.16 718.12,420.72 718.62,421.28 719.14,421.83 719.66,422.37 720.20,422.91 720.74,423.45 721.30,423.97 721.86,424.49 722.44,424.99 723.03,425.49 723.63,425.98 724.24,426.46 724.86,426.93 725.50,427.39 726.14,427.84 726.80,428.27 727.48,428.69 728.16,429.09 728.86,429.48 729.58,429.85 730.31,430.20 731.05,430.53 731.80,430.84 732.57,431.13 733.35,431.39 734.14,431.63 734.94,431.84 735.75,432.01 736.57,432.15 737.39,432.27 738.22,432.36 739.05,432.42 739.89,432.44 740.72,432.44 741.55,432.41 742.38,432.35 743.20,432.25 744.01,432.14 744.82,431.99 745.62,431.79 746.41,431.58 747.18,431.34 747.94,431.08 748.69,430.79 749.43,430.49 750.16,430.17 750.87,429.83 751.57,429.48 752.26,429.11 752.94,428.72 753.57,428.34 750.43,422.66 749.84,422.95 749.27,423.22 748.70,423.47 748.13,423.70 747.56,423.92 746.99,424.12 746.41,424.30 745.83,424.46 745.26,424.60 744.68,424.73 744.10,424.83 743.52,424.92 742.95,425.00 742.38,425.06 741.81,425.10 741.24,425.13 740.67,425.13 740.10,425.11 739.53,425.07 738.97,425.01 738.41,424.93 737.85,424.83 737.29,424.71 736.74,424.57 736.19,424.42 735.64,424.25 735.09,424.07 734.54,423.86 734.00,423.64 733.47,423.40 732.93,423.14 732.40,422.87 731.88,422.58 731.36,422.27 730.84,421.95 730.33,421.62 729.83,421.27 729.33,420.90 728.84,420.53 728.35,420.14 727.87,419.73 727.39,419.32 726.92,418.90 726.46,418.47 726.00,418.02 725.55,417.57 725.10,417.11 724.66,416.64 724.22,416.17 723.79,415.68 723.37,415.19 722.95,414.69 722.54,414.19 722.14,413.67 721.75,413.16 721.36,412.63 720.97,412.10 720.60,411.57 720.23,411.03 719.86,410.49 719.50,409.94 719.15,409.39 718.80,408.83 718.46,408.27 718.13,407.71 717.80,407.14 717.47,406.56 717.16,405.99 716.85,405.41 716.54,404.82 716.24,404.23 715.94,403.64 715.65,403.04 715.37,402.45 715.09,401.84 714.81,401.24 714.54,400.63 714.27,400.02 714.01,399.41 713.75,398.79 713.49,398.18 713.25,397.55 713.00,396.93 712.76,396.30 712.53,395.68 712.29,395.05 712.07,394.41 711.84,393.78 711.62,393.14 711.41,392.50 711.19,391.86 710.98,391.21 710.78,390.57 710.58,389.92 710.38,389.27 710.18,388.63 709.98,387.97 709.79,387.32 709.60,386.67 709.41,386.01 709.22,385.35 709.04,384.70 708.86,384.04 708.69,383.37 708.51,382.71 708.34,382.05 708.17,381.38 708.00,380.72 707.83,380.05 707.67,379.38 707.50,378.71 707.34,378.04 707.18,377.37 707.02,376.70 706.87,376.03 706.71,375.35 706.56,374.68 706.40,374.00 706.25,373.32 706.10,372.65 705.95,371.97 705.80,371.29 705.65,370.61 705.50,369.93 705.35,369.25 705.20,368.57 705.06,367.89 704.91,367.20 704.76,366.52 704.61,365.83 704.47,365.15 704.32,364.47 704.17,363.78 704.02,363.09 703.87,362.41 703.73,361.72 703.58,361.03 703.42,360.34 703.27,359.66 703.12,358.97 702.97,358.28 702.82,357.59 702.66,356.90 702.51,356.21 702.35,355.53 702.19,354.84 702.04,354.15 701.88,353.46 701.72,352.78 701.56,352.09 701.40,351.40 701.24,350.72 701.08,350.03 700.91,349.34 700.75,348.66 700.58,347.97 700.42,347.29 700.25,346.60 700.08,345.92 699.92,345.23 699.75,344.55 699.58,343.86 699.41,343.18 699.24,342.49 699.06,341.81 698.89,341.13 698.72,340.44 698.54,339.76 698.37,339.08 698.19,338.39 698.02,337.71 697.84,337.03 697.66,336.35 697.48,335.67 697.30,334.98 697.12,334.30 696.94,333.62 696.76,332.94 696.58,332.26 696.39,331.58 696.21,330.90 696.02,330.22 695.84,329.54 695.65,328.86 695.46,328.18 695.28,327.50 695.09,326.82 694.90,326.14 694.71,325.46 694.51,324.79 694.32,324.11 694.13,323.43 693.93,322.75 693.74,322.08 693.54,321.40 693.34,320.72 693.15,320.05 692.95,319.37 692.75,318.70 692.55,318.02 692.35,317.34 692.15,316.67 691.95,315.99 691.75,315.32 691.54,314.65 691.34,313.97 691.14,313.30 690.93,312.62 690.73,311.95 690.52,311.28 690.31,310.60 690.11,309.93 689.90,309.26 689.69,308.58 689.48,307.91 689.27,307.24 689.06,306.57 688.85,305.90 688.64,305.22 688.43,304.55 688.22,303.88 688.00,303.21 687.79,302.54 687.57,301.87 687.36,301.20 687.14,300.53 686.93,299.86 686.71,299.19 686.50,298.52 686.28,297.85 686.06,297.18 685.84,296.51 685.62,295.84 685.40,295.18 685.18,294.51 684.96,293.84 684.74,293.17 684.52,292.50 684.30,291.84 684.07,291.17 683.85,290.50 683.63,289.84 683.40,289.17 683.18,288.50 682.95,287.84 682.73,287.17 682.50,286.50 682.27,285.84 682.05,285.17 681.82,284.51 681.59,283.84 681.36,283.18 681.13,282.51 680.91,281.85 680.68,281.18 680.45,280.52 680.21,279.85 679.98,279.19 679.75,278.53 679.52,277.86 679.29,277.20 679.06,276.54 678.82,275.87 678.59,275.21 678.36,274.55 678.12,273.89 677.89,273.22 677.65,272.56 677.42,271.90 677.18,271.24 676.94,270.58 676.71,269.91 676.47,269.25 676.23,268.59 676.00,267.93 675.76,267.27 675.52,266.61 675.28,265.95 675.04,265.29 674.81,264.63 674.57,263.97 674.33,263.31 674.08,262.65 673.84,261.99 673.60,261.33 673.36,260.67 673.12,260.01 672.88,259.35 672.63,258.69 672.39,258.03 672.15,257.37 671.90,256.72 671.66,256.06 671.41,255.40 671.17,254.74 670.93,254.08 670.68,253.43 670.44,252.77 670.19,252.11 669.95,251.45 669.70,250.80 669.45,250.14 669.21,249.48 668.96,248.82 668.71,248.17 668.47,247.51 668.22,246.85 667.97,246.20 667.73,245.54 667.48,244.88 667.23,244.23 666.98,243.57 666.73,242.92 666.49,242.26 666.24,241.60 665.99,240.95 665.74,240.29 665.49,239.64 665.24,238.98 664.99,238.33 664.74,237.67 664.49,237.02 664.25,236.36 664.00,235.71 663.75,235.05 663.50,234.40 663.25,233.74 663.00,233.09 662.74,232.43 662.49,231.78 662.24,231.12 661.99,230.47 661.74,229.81 661.49,229.16 661.24,228.51 660.98,227.85 660.73,227.20 660.48,226.54 660.23,225.89 659.97,225.23 659.72,224.58 659.46,223.93 659.21,223.27 658.96,222.62 658.70,221.96 658.45,221.31 658.19,220.65 657.93,220.00 657.68,219.35 657.42,218.69 657.16,218.04 656.91,217.38 656.65,216.73 656.39,216.08 656.13,215.42 655.87,214.77 655.61,214.12 655.35,213.46 655.09,212.81 654.83,212.16 654.57,211.50 654.31,210.85 654.04,210.20 653.78,209.55 653.52,208.89 653.25,208.24 652.98,207.59 652.72,206.94 652.45,206.28 652.18,205.63 651.92,204.98 651.65,204.33 651.38,203.68 651.11,203.03 650.84,202.38 650.56,201.73 650.29,201.08 650.02,200.43 649.74,199.78 649.47,199.13 649.19,198.48 648.92,197.83 648.64,197.18 648.36,196.53 648.08,195.89 647.80,195.24 647.52,194.59 647.24,193.94 646.95,193.30 646.67,192.65 646.38,192.00 646.10,191.36 645.81,190.71 645.52,190.07 645.23,189.42 644.94,188.78 644.65,188.13 644.36,187.49 644.06,186.85 643.77,186.20 643.47,185.56 643.18,184.92 642.88,184.28 642.58,183.64 642.28,183.00 641.98,182.36 641.67,181.72 641.37,181.08 641.06,180.44 640.76,179.80 640.45,179.16 640.14,178.53 639.83,177.89 639.51,177.25 639.20,176.62 638.89,175.98 638.57,175.35 638.25,174.72 637.93,174.08 637.61,173.45 637.29,172.82 636.96,172.19 636.64,171.56 636.31,170.93 635.98,170.30 635.65,169.67 635.32,169.04 634.99,168.42 634.65,167.79 634.32,167.16 633.98,166.54 633.64,165.91 633.30,165.29 632.96,164.67 632.61,164.05 632.27,163.43 631.92,162.81 631.57,162.19 631.22,161.57 630.86,160.95 630.51,160.34 630.15,159.72 629.79,159.11 629.43,158.49 629.07,157.88 628.71,157.27 628.34,156.66 627.97,156.05 627.60,155.44 627.23,154.83 626.86,154.22 626.48,153.62 626.11,153.01 625.73,152.41 625.35,151.81 624.96,151.21 624.58,150.61 624.19,150.01 623.80,149.41 623.41,148.82 623.01,148.22 622.62,147.63 622.22,147.03 621.83,146.44 621.43,145.85 621.02,145.26 620.62,144.67 620.21,144.08 619.80,143.50 619.39,142.91 618.98,142.33 618.57,141.75 618.15,141.17 617.73,140.59 617.31,140.01 616.88,139.43 616.46,138.86 616.03,138.29 615.60,137.72 615.16,137.15 614.73,136.58 614.29,136.01 613.85,135.45 613.41,134.89 612.96,134.32 612.51,133.77 612.06,133.21 611.61,132.65 611.16,132.10 610.70,131.55 610.24,131.00 609.78,130.45 609.31,129.90 608.85,129.36 608.38,128.81 607.91,128.27 607.43,127.74 606.95,127.20 606.48,126.66 605.99,126.13 605.51,125.60 605.02,125.07 604.53,124.55 604.04,124.02 603.55,123.50 603.05,122.98 602.55,122.47 602.05,121.95 601.55,121.44 601.05,120.92 600.54,120.41 600.03,119.91 599.52,119.40 599.01,118.90 598.49,118.40 597.97,117.90 597.45,117.41 596.93,116.92 596.40,116.43 595.88,115.94 595.35,115.45 594.82,114.97 594.28,114.49 593.75,114.01 593.21,113.54 592.67,113.07 592.13,112.59 591.58,112.13 591.04,111.66 590.49,111.20 589.94,110.74 589.39,110.28 588.83,109.82 588.28,109.37 587.72,108.92 587.16,108.47 586.60,108.02 586.04,107.58 585.47,107.14 584.90,106.70 584.33,106.26 583.76,105.83 583.19,105.40 582.62,104.97 582.04,104.54 581.46,104.12 580.88,103.70 580.30,103.28 579.72,102.86 579.13,102.45 578.54,102.03 577.95,101.62 577.37,101.22 576.77,100.81 576.18,100.41 575.59,100.01 574.99,99.61 574.39,99.21 573.79,98.82 573.19,98.43 572.59,98.04 571.99,97.65 571.38,97.27 570.78,96.89 570.17,96.51 569.56,96.14 568.95,95.76 568.33,95.39 567.72,95.02 567.10,94.66 566.48,94.29 565.87,93.93 565.25,93.57 564.62,93.22 564.00,92.86 563.38,92.51 562.75,92.16 562.12,91.82 561.50,91.47 560.87,91.13 560.23,90.79 559.60,90.46 558.97,90.12 558.33,89.79 557.70,89.46 557.06,89.14 556.42,88.81 555.78,88.49 555.14,88.17 554.50,87.85 553.85,87.54 553.21,87.23 552.56,86.92 551.91,86.61 551.27,86.31 550.62,86.01 549.97,85.71 549.31,85.41 548.66,85.12 548.01,84.83 547.35,84.54 546.70,84.25 546.04,83.97 545.38,83.68 544.72,83.40 544.06,83.13 543.40,82.85 542.73,82.58 542.07,82.31 541.41,82.05 540.74,81.78 540.07,81.52 539.41,81.26 538.74,81.01 538.07,80.75 537.40,80.50 536.73,80.25 536.05,80.00 535.38,79.76 534.71,79.52 534.03,79.28 533.35,79.04 532.68,78.81 532.00,78.58 531.32,78.35 530.64,78.12 529.96,77.90 529.28,77.68 528.60,77.46 527.91,77.24 527.23,77.03 526.55,76.82 525.86,76.61 525.17,76.41 524.49,76.21 523.80,76.01 523.11,75.82 522.42,75.62 521.73,75.43 521.04,75.24 520.35,75.06 519.65,74.88 518.96,74.70 518.27,74.52 517.57,74.34 516.88,74.17 516.18,74.00 515.48,73.83 514.79,73.67 514.09,73.51 513.39,73.35 512.69,73.19 511.99,73.04 511.29,72.88 510.59,72.74 509.89,72.59 509.19,72.45 508.48,72.31 507.78,72.17 507.08,72.03 506.37,71.90 505.67,71.77 504.96,71.64 504.26,71.51 503.55,71.39 502.84,71.27 502.14,71.16 501.43,71.04 500.72,70.93 500.01,70.82 499.30,70.72 498.59,70.62 497.88,70.52 497.17,70.42 496.46,70.33 495.75,70.24 495.04,70.15 494.33,70.07 493.62,69.99 492.90,69.91 492.19,69.83 491.48,69.76 490.76,69.69 490.05,69.62 489.34,69.55 488.62,69.49 487.91,69.43 487.19,69.37 486.48,69.32 485.76,69.27 485.05,69.22 484.33,69.17 483.62,69.13 482.90,69.09 482.18,69.05 481.47,69.02 480.75,68.98 480.03,68.95 479.32,68.93 478.60,68.90 477.88,68.88 477.17,68.87 476.45,68.85 475.73,68.84 475.02,68.83 474.30,68.82 473.58,68.82 472.86,68.82 472.15,68.82 471.43,68.83 470.71,68.83 469.99,68.85 469.27,68.86 468.56,68.88 467.84,68.90 467.12,68.92 466.41,68.94 465.69,68.97 464.97,69.00 464.25,69.04 463.54,69.08 462.82,69.12 462.10,69.16 461.39,69.21 460.67,69.25 459.95,69.31 459.24,69.36 458.52,69.42 457.81,69.48 457.09,69.55 456.38,69.61 455.66,69.68 454.95,69.76 454.23,69.83 453.52,69.91 452.81,70.00 452.09,70.08 451.38,70.17 450.67,70.26 449.95,70.36 449.24,70.45 448.53,70.56 447.82,70.66 447.11,70.77 446.40,70.88 445.69,71.00 444.98,71.11 444.27,71.24 443.56,71.36 442.86,71.49 442.15,71.62 441.44,71.75 440.74,71.89 440.03,72.03 439.33,72.17 438.62,72.32 437.92,72.47 437.22,72.62 436.51,72.77 435.81,72.93 435.11,73.10 434.41,73.26 433.71,73.43 433.01,73.60 432.31,73.78 431.62,73.96 430.92,74.14 430.23,74.32 429.53,74.51 428.84,74.70 428.14,74.90 427.45,75.09 426.76,75.29 426.07,75.50 425.38,75.71 424.69,75.92 424.01,76.13 423.32,76.35 422.63,76.57 421.95,76.80 421.27,77.02 420.58,77.26 419.90,77.49 419.22,77.73 418.55,77.97 417.87,78.22 417.19,78.47 416.52,78.72 415.84,78.97 415.17,79.23 414.50,79.49 413.83,79.76 413.16,80.02 412.49,80.30 411.83,80.57 411.16,80.85 410.50,81.13 409.84,81.42 409.18,81.70 408.52,82.00 407.86,82.29 407.20,82.59 406.55,82.89 405.90,83.19 405.24,83.50 404.59,83.81 403.95,84.13 403.30,84.45 402.65,84.77 402.01,85.09 401.37,85.42 400.73,85.75 400.09,86.09 399.45,86.43 398.82,86.77 398.19,87.11 397.56,87.46 396.93,87.82 396.30,88.17 395.68,88.53 395.06,88.90 394.44,89.26 393.82,89.63 393.20,90.00 392.59,90.37 391.98,90.75 391.37,91.13 390.76,91.51 390.16,91.89 389.55,92.28 388.95,92.67 388.35,93.06 387.75,93.45 387.15,93.85 386.56,94.24 385.97,94.64 385.38,95.05 384.79,95.45 384.20,95.86 383.61,96.26 383.03,96.67 382.45,97.08 381.86,97.50 381.28,97.91 380.71,98.33 380.13,98.75 379.56,99.17 378.98,99.59 378.41,100.01 377.84,100.44 377.27,100.87 376.71,101.30 376.14,101.73 375.58,102.16 375.02,102.59 374.46,103.03 373.90,103.47 373.34,103.90 372.78,104.34 372.23,104.78 371.67,105.23 371.12,105.67 370.57,106.11 370.02,106.56 369.47,107.00 368.92,107.45 368.37,107.89 367.82,108.34 367.28,108.79 366.73,109.24 366.19,109.69 365.65,110.14 365.10,110.60 364.56,111.05 364.02,111.50 363.48,111.96 362.94,112.41 362.41,112.87 361.87,113.32 361.33,113.78 360.79,114.24 360.26,114.69 359.72,115.15 359.19,115.61 358.66,116.07 358.12,116.53 357.59,116.99 357.06,117.45 356.53,117.91 356.00,118.37 355.47,118.84 354.94,119.30 354.41,119.76 353.88,120.23 353.35,120.69 352.82,121.16 352.29,121.62 351.77,122.09 351.24,122.55 350.71,123.02 350.19,123.49 349.66,123.95 349.14,124.42 348.61,124.89 348.09,125.36 347.57,125.82 347.04,126.29 346.52,126.76 346.00,127.23 345.48,127.70 344.95,128.17 344.43,128.64 343.91,129.11 343.39,129.58 342.87,130.05 342.35,130.52 341.83,130.99 341.31,131.46 340.79,131.93 340.27,132.41 339.75,132.88 339.23,133.35 338.71,133.82 338.20,134.29 337.68,134.76 337.16,135.24 336.64,135.71 336.12,136.18 335.61,136.65 335.09,137.12 334.57,137.60 334.05,138.07 333.53,138.54 333.01,139.00 332.48,139.47 331.95,139.94 331.43,140.41 330.90,140.89 330.38,141.36 329.85,141.84 329.33,142.33 328.80,142.81 328.28,143.30 327.76,143.79 327.24,144.29 326.72,144.79 326.21,145.30 325.70,145.81 325.19,146.33 324.68,146.85 324.18,147.38 323.69,147.91 323.19,148.45 322.70,148.99 322.22,149.54 321.74,150.10 321.27,150.67 320.80,151.24 320.34,151.81 319.90,152.39 319.45,152.97 319.02,153.55 318.59,154.13 318.17,154.71 317.75,155.30 317.34,155.87 316.93,156.45 316.53,157.03 316.12,157.60 315.72,158.17 315.32,158.74 314.92,159.30 314.52,159.86 314.12,160.41 313.72,160.96 313.32,161.50 312.91,162.04 312.50,162.57 312.09,163.09 311.67,163.60 311.25,164.11 310.83,164.60 310.40,165.08 309.96,165.56 309.51,166.02 309.06,166.47 308.61,166.90 308.14,167.33 307.67,167.74 307.18,168.14 306.69,168.53 306.18,168.92 305.65,169.30 305.12,169.67 304.58,170.04 304.02,170.40 303.46,170.76 302.89,171.11 302.32,171.46 301.73,171.81 301.14,172.16 300.55,172.51 299.95,172.86 299.34,173.21 298.74,173.56 298.12,173.92 297.51,174.28 296.89,174.65 296.28,175.03 295.67,175.41 295.06,175.80 294.45,176.19 293.85,176.59 293.25,176.99 292.65,177.40 292.06,177.81 291.47,178.22 290.88,178.64 290.29,179.06 289.71,179.49 289.13,179.92 288.56,180.36 287.99,180.79 287.42,181.24 286.85,181.69 286.29,182.14 285.73,182.59 285.17,183.05 284.62,183.51 284.07,183.98 283.53,184.45 282.98,184.92 282.44,185.40 281.91,185.88 281.38,186.36 280.85,186.85 280.32,187.34 279.80,187.84 279.28,188.34 278.77,188.84 278.25,189.35 277.75,189.85 277.24,190.36 276.73,190.87 276.23,191.39 275.73,191.91 275.24,192.43 274.75,192.95 274.26,193.48 273.78,194.01 273.30,194.55 272.83,195.09 272.36,195.63 271.89,196.18 271.42,196.72 270.96,197.27 270.51,197.83 270.05,198.38 269.60,198.94 269.16,199.50 268.71,200.07 268.27,200.63 267.84,201.20 267.40,201.77 266.98,202.35 266.55,202.93 266.13,203.51 265.71,204.09 265.30,204.67 264.89,205.26 264.48,205.85 264.07,206.44 263.67,207.03 263.28,207.63 262.88,208.23 262.49,208.83 262.11,209.43 261.73,210.04 261.35,210.65 260.97,211.25 260.60,211.87 260.23,212.48 259.87,213.10 259.51,213.71 259.15,214.33 258.79,214.96 258.44,215.58 258.10,216.21 257.75,216.83 257.42,217.46 257.08,218.10 256.75,218.73 256.42,219.36 256.09,220.00 255.77,220.64 255.45,221.28 255.14,221.92 254.83,222.57 254.52,223.21 254.22,223.86 253.92,224.51 253.62,225.16 253.33,225.81 253.04,226.47 252.76,227.12 252.48,227.78 252.20,228.44 251.93,229.10 251.67,229.76 251.40,230.43 251.14,231.09 250.89,231.76 250.63,232.43 250.38,233.10 250.14,233.77 249.90,234.44 249.66,235.11 249.42,235.79 249.19,236.46 248.97,237.14 248.74,237.82 248.53,238.50 248.31,239.18 248.11,239.86 247.90,240.54 247.70,241.23 247.50,241.91 247.31,242.60 247.12,243.29 246.93,243.97 246.75,244.66 246.57,245.35 246.39,246.04 246.22,246.74 246.05,247.43 245.89,248.12 245.73,248.81 245.57,249.51 245.41,250.20 245.26,250.90 245.12,251.60 244.97,252.29 244.83,252.99 244.70,253.69 244.56,254.39 244.43,255.09 244.30,255.79 244.18,256.49 244.06,257.19 243.94,257.89 243.83,258.59 243.72,259.30 243.61,260.00 243.51,260.70 243.41,261.41 243.31,262.11 243.22,262.82 243.13,263.52 243.04,264.23 242.96,264.93 242.88,265.64 242.81,266.34 242.73,267.05 242.66,267.76 242.60,268.46 242.54,269.17 242.48,269.88 242.42,270.59 242.37,271.29 242.32,272.00 242.27,272.71 242.23,273.42 242.19,274.13 242.16,274.84 242.13,275.55 242.10,276.25 242.07,276.96 242.05,277.67 242.03,278.38 242.02,279.09 242.00,279.80 241.99,280.51 241.99,281.22 241.99,281.93 241.99,282.64 241.99,283.34 242.00,284.05 242.01,284.76 242.02,285.47 242.04,286.18 242.06,286.89 242.08,287.60 242.11,288.30 242.14,289.01 242.17,289.72 242.20,290.43 242.23,291.13 242.27,291.84 242.30,292.55 242.34,293.26 242.39,293.96 242.43,294.67 242.48,295.37 242.54,296.08 242.59,296.79 242.65,297.49 242.71,298.20 242.78,298.90 242.85,299.61 242.92,300.31 242.99,301.02 243.07,301.72 243.15,302.42 243.24,303.13 243.32,303.83 243.41,304.53 243.50,305.23 243.60,305.93 243.70,306.63 243.80,307.33 243.91,308.03 244.01,308.73 244.12,309.43 244.24,310.13 244.35,310.83 244.47,311.53 244.59,312.22 244.71,312.92 244.84,313.62 244.97,314.31 245.10,315.01 245.24,315.70 245.38,316.40 245.52,317.09 245.66,317.78 245.81,318.48 245.96,319.17 246.11,319.86 246.27,320.55 246.43,321.24 246.59,321.93 246.76,322.61 246.92,323.30 247.09,323.99 247.27,324.67 247.44,325.36 247.62,326.04 247.80,326.73 247.99,327.41 248.18,328.09 248.37,328.77 248.56,329.46 248.76,330.14 248.96,330.81 249.16,331.49 249.36,332.17 249.57,332.85 249.78,333.52 250.00,334.20 250.21,334.87 250.43,335.54 250.65,336.21 250.88,336.89 251.11,337.56 251.34,338.22 251.57,338.89 251.81,339.56 252.05,340.23 252.29,340.89 252.53,341.55 252.78,342.22 253.03,342.88 253.28,343.54 253.54,344.20 253.80,344.86 254.06,345.52 254.33,346.17 254.60,346.83 254.87,347.48 255.14,348.14 255.42,348.79 255.70,349.44 255.98,350.09 256.27,350.74 256.56,351.38 256.86,352.03 257.15,352.67 257.45,353.31 257.76,353.96 258.07,354.60 258.38,355.23 258.69,355.87 259.01,356.50 259.33,357.14 259.65,357.77 259.98,358.40 260.31,359.03 260.65,359.65 260.99,360.28 261.33,360.90 261.68,361.52 262.03,362.14 262.38,362.75 262.74,363.37 263.10,363.98 263.46,364.59 263.83,365.20 264.20,365.80 264.58,366.41 264.96,367.01 265.34,367.61 265.73,368.20 266.12,368.80 266.52,369.39 266.92,369.98 267.32,370.57 267.73,371.15 268.14,371.73 268.56,372.31 268.98,372.88 269.40,373.46 269.83,374.03 270.26,374.59 270.70,375.16 271.14,375.72 271.58,376.28 272.03,376.83 272.48,377.38 272.94,377.93 273.40,378.48 273.86,379.02 274.33,379.55 274.80,380.09 275.28,380.62 275.76,381.15 276.24,381.67 276.73,382.19 277.22,382.71 277.72,383.22 278.22,383.73 278.72,384.24 279.23,384.73 279.75,385.23 280.26,385.72 280.78,386.21 281.31,386.69 281.83,387.17 282.36,387.65 282.89,388.12 283.43,388.59 283.96,389.05 284.50,389.51 285.04,389.97 285.58,390.43 286.13,390.88 286.67,391.33 287.22,391.78 287.77,392.23 288.32,392.67 288.87,393.11 289.42,393.55 289.98,393.99 290.54,394.42 291.09,394.85 291.65,395.28 292.21,395.71 292.77,396.14 293.33,396.56 293.89,396.99 294.45,397.41 295.01,397.83 295.58,398.25 296.14,398.67 296.70,399.09 297.26,399.51 297.82,399.93 298.39,400.35 298.95,400.77 299.51,401.18 300.07,401.60 300.63,402.02 301.19,402.44 301.75,402.86 302.31,403.28 302.86,403.70 303.42,404.12 303.98,404.54 304.53,404.96 305.09,405.38 305.64,405.80 306.19,406.23 306.74,406.66 307.29,407.08 307.84,407.51 308.38,407.94 308.92,408.38 309.47,408.81 310.00,409.25 310.54,409.69 311.08,410.13 311.61,410.57 312.14,411.02 312.67,411.46 313.19,411.92 313.71,412.37 314.23,412.82 314.75,413.28 315.26,413.75 315.77,414.21 316.28,414.68 316.78,415.15 317.28,415.63 317.78,416.11 318.27,416.59 318.75,417.08 319.24,417.57 319.72,418.06 320.19,418.56 320.66,419.06 321.12,419.57 321.58,420.08 322.03,420.60 322.48,421.12 322.93,421.64 323.37,422.17 323.80,422.70 324.23,423.24 324.66,423.78 325.08,424.32 325.50,424.87 325.91,425.42 326.32,425.98 326.73,426.54 327.12,427.10 327.52,427.67 327.91,428.23 328.30,428.81 328.68,429.38 329.06,429.96 329.44,430.54 329.81,431.12 330.17,431.71 330.54,432.30 330.90,432.89 331.25,433.48 331.60,434.08 331.95,434.68 332.30,435.28 332.64,435.88 332.98,436.49 333.31,437.09 333.64,437.70 333.97,438.31 334.30,438.93 334.62,439.54 334.94,440.16 335.26,440.78 335.57,441.40 335.89,442.02 336.20,442.64 336.50,443.26 336.81,443.89 337.11,444.52 337.41,445.14 337.71,445.77 338.00,446.40 338.30,447.04 338.59,447.67 338.88,448.30 339.16,448.94 339.45,449.57 339.73,450.21 340.01,450.85 340.28,451.49 340.56,452.13 340.83,452.77 341.11,453.42 341.38,454.06 341.65,454.70 341.92,455.35 342.19,455.99 342.46,456.64 342.72,457.28 342.99,457.93 343.25,458.58 343.52,459.22 343.78,459.87 344.04,460.52 344.31,461.17 344.57,461.81 344.83,462.46 345.09,463.11 345.35,463.76 345.62,464.41 345.88,465.06 346.14,465.71 346.40,466.36 346.66,467.01 346.92,467.66 347.18,468.31 347.45,468.96 347.71,469.61 347.97,470.26 348.23,470.91 348.50,471.56 348.76,472.21 349.03,472.86 349.29,473.51 349.56,474.15 349.82,474.80 350.09,475.45 350.35,476.10 350.62,476.75 350.88,477.40 351.15,478.04 351.42,478.69 351.69,479.34 351.95,479.99 352.22,480.63 352.49,481.28 352.76,481.93 353.03,482.58 353.30,483.22 353.57,483.87 353.84,484.52 354.11,485.16 354.38,485.81 354.65,486.45 354.93,487.10 355.20,487.75 355.47,488.39 355.74,489.04 356.02,489.68 356.29,490.33 356.56,490.97 356.84,491.62 357.11,492.26 357.38,492.91 357.66,493.55 357.93,494.20 358.21,494.84 358.48,495.49 358.76,496.13 359.04,496.77 359.31,497.42 359.59,498.06 359.87,498.71 360.14,499.35 360.42,499.99 360.70,500.64 360.98,501.28 361.26,501.92 361.54,502.56 361.82,503.21 362.10,503.85 362.38,504.49 362.66,505.13 362.94,505.77 363.22,506.42 363.50,507.06 363.78,507.70 364.07,508.34 364.35,508.98 364.63,509.62 364.92,510.26 365.20,510.90 365.48,511.54 365.77,512.19 366.05,512.83 366.33,513.47 366.62,514.11 366.90,514.75 367.19,515.39 367.47,516.03 367.76,516.67 368.05,517.31 368.33,517.95 368.62,518.58 368.91,519.22 369.20,519.86 369.48,520.50 369.77,521.14 370.06,521.78 370.35,522.42 370.64,523.05 370.93,523.69 371.22,524.33 371.51,524.97 371.80,525.61 372.09,526.24 372.39,526.88 372.68,527.52 372.97,528.15 373.26,528.79 373.56,529.43 373.85,530.06 374.15,530.70 374.44,531.33 374.74,531.97 375.03,532.61 375.33,533.24 375.62,533.88 375.92,534.51 376.22,535.15 376.51,535.78 376.81,536.41 377.11,537.05 377.41,537.68 377.71,538.32 378.00,538.95 378.30,539.58 378.60,540.22 378.90,540.85 379.20,541.48 379.51,542.12 379.81,542.75 380.11,543.38 380.41,544.01 380.71,544.65 381.02,545.28 381.32,545.91 381.62,546.54 381.93,547.17 382.23,547.80 382.54,548.43 382.84,549.07 383.15,549.70 383.45,550.33 383.76,550.96 384.06,551.59 384.37,552.22 384.68,552.85 384.99,553.48 385.29,554.11 385.60,554.73 385.91,555.36 386.22,555.99 386.53,556.62 386.84,557.25 387.15,557.88 387.46,558.51 387.77,559.13 388.09,559.76 388.40,560.39 388.71,561.02 389.02,561.64 389.34,562.27 389.65,562.90 389.96,563.52 390.28,564.15 390.59,564.78 390.91,565.40 391.22,566.03 391.54,566.65 391.85,567.28 392.17,567.90 392.49,568.53 392.80,569.15 393.12,569.78 393.44,570.40 393.76,571.03 394.08,571.65 394.40,572.27 394.72,572.90 395.04,573.52 395.36,574.14 395.68,574.77 396.00,575.39 396.32,576.01 396.64,576.64 396.96,577.26 397.29,577.88 397.61,578.50 397.93,579.12 398.26,579.74 398.58,580.37 398.91,580.99 399.23,581.61 399.56,582.23 399.88,582.85 400.21,583.47 400.54,584.09 400.86,584.71 401.19,585.33 401.52,585.95 401.85,586.57 402.17,587.19 402.50,587.81 402.83,588.42 403.16,589.04 403.49,589.66 403.82,590.28 404.15,590.90 404.48,591.51 404.82,592.13 405.15,592.75 405.48,593.37 405.81,593.98 406.15,594.60 406.48,595.21 406.81,595.83 407.15,596.45 407.48,597.06 407.82,597.68 408.15,598.29 408.49,598.91 408.82,599.52 409.16,600.14 409.50,600.75 409.83,601.37 410.17,601.98 410.51,602.59 410.85,603.21 411.19,603.82 411.53,604.43 411.87,605.05 412.21,605.66 412.55,606.27 412.89,606.88 413.23,607.50 413.58,608.11 413.92,608.72 414.26,609.33 414.61,609.94 414.95,610.55 415.30,611.16 415.64,611.77 415.99,612.38 416.34,612.99 416.69,613.60 417.04,614.21 417.38,614.81 417.73,615.42 418.09,616.03 418.44,616.64 418.79,617.24 419.14,617.85 419.49,618.45 419.85,619.06 420.20,619.66 420.56,620.27 420.91,620.87 421.27,621.48 421.63,622.08 421.99,622.68 422.35,623.28 422.71,623.89 423.07,624.49 423.43,625.09 423.79,625.69 424.15,626.29 424.52,626.89 424.88,627.49 425.25,628.09 425.61,628.69 425.98,629.28 426.35,629.88 426.72,630.48 427.09,631.07 427.46,631.67 427.83,632.26 428.20,632.86 428.58,633.45 428.95,634.04 429.33,634.64 429.70,635.23 430.08,635.82 430.46,636.41 430.84,637.00 431.22,637.59 431.60,638.18 431.98,638.77 432.36,639.36 432.75,639.94 433.13,640.53 433.52,641.12 433.91,641.70 434.29,642.29 434.68,642.87 435.07,643.45 435.47,644.04 435.86,644.62 436.25,645.20 436.65,645.78 437.04,646.36 437.44,646.94 437.84,647.52 438.24,648.09 438.64,648.67 439.04,649.25 439.44,649.82 439.84,650.39 440.25,650.97 440.66,651.54 441.06,652.11 441.47,652.68 441.88,653.25 442.29,653.82 442.70,654.39 443.12,654.96 443.53,655.53 443.95,656.09 444.36,656.66 444.78,657.22 445.20,657.78 445.62,658.35 446.04,658.91 446.47,659.47 446.89,660.03 447.32,660.58 447.74,661.14 448.17,661.70 448.60,662.25 449.03,662.81 449.47,663.36 449.90,663.91 450.33,664.47 450.77,665.02 451.21,665.57 451.65,666.11 452.09,666.66 452.53,667.21 452.97,667.75 453.42,668.30 453.86,668.84 454.31,669.38 454.76,669.92 455.21,670.46 455.66,671.00 456.11,671.54 456.56,672.07 457.02,672.61 457.48,673.14 457.93,673.67 458.39,674.21 458.85,674.74 459.32,675.26 459.78,675.79 460.25,676.32 460.71,676.84 461.18,677.37 461.65,677.89 462.12,678.41 462.59,678.93 463.07,679.45 463.54,679.97 464.02,680.48 464.50,681.00 464.98,681.51 465.46,682.02 465.94,682.53 466.43,683.04 466.91,683.55 467.40,684.06 467.89,684.56 468.38,685.07 468.87,685.57 469.36,686.07 469.86,686.57 470.36,687.06 470.85,687.56 471.35,688.05 471.86,688.55 472.36,689.04 472.87,689.53 473.37,690.01 473.88,690.50 474.39,690.98 474.91,691.46 475.42,691.94 475.94,692.42 476.45,692.90 476.97,693.37 477.50,693.84 478.02,694.31 478.55,694.78 479.07,695.25 479.60,695.71 480.13,696.17 480.67,696.63 481.20,697.09 481.74,697.54 482.28,697.99 482.82,698.44 483.37,698.89 483.91,699.34 484.46,699.78 485.01,700.22 485.56,700.66 486.11,701.09 486.67,701.53 487.23,701.96 487.78,702.39 488.35,702.81 488.91,703.23 489.48,703.65 490.04,704.07 490.61,704.49 491.19,704.90 491.76,705.31 492.34,705.71 492.92,706.11 493.50,706.51 494.08,706.91 494.67,707.30 495.26,707.69 495.85,708.07 496.44,708.45 497.04,708.83 497.64,709.21 498.24,709.58 498.84,709.95 499.44,710.31 500.05,710.67 500.66,711.03 501.27,711.38 501.89,711.73 502.50,712.07 503.12,712.41 503.74,712.75 504.36,713.08 504.99,713.41 505.62,713.74 506.25,714.06 506.88,714.37 507.52,714.68 508.15,714.99 508.79,715.29 509.44,715.59 510.08,715.88 510.73,716.16 511.38,716.45 512.03,716.72 512.68,716.99 513.34,717.26 514.00,717.52 514.66,717.78 515.32,718.03 515.98,718.27 516.65,718.51 517.32,718.75 517.99,718.98 518.66,719.20 519.33,719.42 520.01,719.63 520.69,719.84 521.37,720.04 522.05,720.23 522.73,720.42 523.42,720.60 524.10,720.78 524.79,720.95 525.48,721.11 526.17,721.27 526.87,721.42 527.56,721.57 528.25,721.71 528.95,721.84 529.65,721.97 530.35,722.09 531.04,722.21 531.74,722.32 532.45,722.42 533.15,722.52 533.85,722.62 534.55,722.70 535.26,722.79 535.96,722.86 536.66,722.93 537.37,723.00 538.07,723.06 538.78,723.11 539.49,723.16 540.19,723.21 540.90,723.25 541.61,723.28 542.32,723.31 543.02,723.33 543.73,723.35 544.44,723.36 545.15,723.37 545.85,723.37 546.56,723.37 547.27,723.36 547.98,723.35 548.68,723.34 549.39,723.31 550.10,723.29 550.80,723.26 551.51,723.22 552.22,723.18 552.92,723.14 553.63,723.09 554.33,723.03 555.04,722.97 555.74,722.91 556.45,722.84 557.15,722.77 557.85,722.69 558.55,722.61 559.26,722.52 559.96,722.43 560.66,722.34 561.36,722.24 562.06,722.14 562.76,722.03 563.45,721.92 564.15,721.80 564.85,721.68 565.54,721.56 566.24,721.43 566.93,721.30 567.63,721.17 568.32,721.03 569.01,720.89 569.70,720.74 570.40,720.59 571.08,720.44 571.77,720.28 572.46,720.12 573.15,719.95 573.83,719.78 574.52,719.61 575.20,719.43 575.89,719.25 576.57,719.06 577.25,718.87 577.93,718.68 578.61,718.48 579.29,718.28 579.96,718.08 580.64,717.87 581.31,717.65 581.98,717.43 582.65,717.21 583.32,716.99 583.99,716.76 584.66,716.52 585.33,716.29 585.99,716.05 586.65,715.80 587.32,715.55 587.98,715.30 588.64,715.05 589.29,714.79 589.95,714.53 590.61,714.26 591.26,713.99 591.91,713.72 592.56,713.44 593.21,713.16 593.86,712.88 594.51,712.59 595.15,712.30 595.79,712.01 596.43,711.71 597.07,711.41 597.71,711.10 598.35,710.79 598.98,710.48 599.62,710.17 600.25,709.85 600.88,709.53 601.50,709.20 602.13,708.87 602.75,708.54 603.38,708.21 604.00,707.87 604.62,707.52 605.23,707.18 605.85,706.83 606.46,706.48 607.07,706.12 607.68,705.76 608.29,705.40 608.90,705.03 609.50,704.67 610.10,704.29 610.70,703.92 611.30,703.54 611.89,703.16 612.49,702.77 613.08,702.38 613.67,701.99 614.25,701.60 614.84,701.20 615.42,700.80 616.00,700.39 616.58,699.99 617.16,699.58 617.73,699.16 618.30,698.75 618.87,698.33 619.44,697.91 620.00,697.48 620.57,697.06 621.13,696.63 621.69,696.19 622.24,695.76 622.80,695.32 623.35,694.88 623.90,694.43 624.45,693.99 625.00,693.54 625.54,693.08 626.08,692.63 626.62,692.17 627.16,691.71 627.69,691.25 628.22,690.79 628.75,690.32 629.28,689.85 629.80,689.37 630.33,688.90 630.85,688.42 631.36,687.94 631.88,687.45 632.39,686.97 632.90,686.48 633.41,685.99 633.92,685.49 634.42,685.00 634.92,684.50 635.42,684.00 635.92,683.50 636.42,683.00 636.91,682.49 637.40,681.98 637.89,681.47 638.38,680.96 638.86,680.45 639.34,679.93 639.82,679.41 640.30,678.89 640.77,678.37 641.25,677.85 641.72,677.32 642.19,676.79 642.65,676.26 643.12,675.73 643.58,675.20 644.04,674.66 644.50,674.13 644.96,673.59 645.41,673.05 645.86,672.51 646.31,671.96 646.76,671.42 647.21,670.87 647.65,670.32 648.09,669.77 648.53,669.22 648.97,668.67 649.40,668.11 649.84,667.55 650.27,667.00 650.70,666.44 651.12,665.87 651.55,665.31 651.97,664.75 652.39,664.18 652.81,663.61 653.23,663.05 653.65,662.48 654.06,661.91 654.47,661.33 654.88,660.76 655.29,660.18 655.69,659.61 656.10,659.03 656.50,658.45 656.90,657.87 657.30,657.29 657.70,656.71 658.09,656.12 658.48,655.54 658.88,654.95 659.27,654.37 659.65,653.78 660.04,653.19 660.42,652.60 660.81,652.00 661.19,651.41 661.56,650.82 661.94,650.22 662.32,649.63 662.69,649.03 663.06,648.43 663.43,647.83 663.80,647.23 664.17,646.63 664.54,646.03 664.90,645.43 665.26,644.82 665.62,644.22 665.98,643.61 666.34,643.01 666.69,642.40 667.05,641.79 667.40,641.18 667.75,640.57 668.10,639.96 668.45,639.35 668.80,638.74 669.15,638.12 669.49,637.51 669.83,636.89 670.17,636.28 670.51,635.66 670.85,635.04 671.19,634.42 671.52,633.80 671.85,633.18 672.19,632.56 672.51,631.94 672.84,631.31 673.17,630.69 673.49,630.06 673.81,629.43 674.13,628.80 674.45,628.17 674.76,627.54 675.08,626.91 675.39,626.28 675.70,625.65 676.01,625.01 676.31,624.38 676.62,623.74 676.92,623.10 677.22,622.46 677.51,621.82 677.81,621.18 678.10,620.54 678.39,619.90 678.68,619.25 678.97,618.61 679.25,617.96 679.53,617.31 679.81,616.67 680.09,616.02 680.37,615.37 680.64,614.72 680.91,614.06 681.18,613.41 681.44,612.75 681.70,612.10 681.96,611.44 682.22,610.79 682.48,610.13 682.73,609.47 682.98,608.81 683.23,608.15 683.48,607.48 683.72,606.82 683.96,606.16 684.20,605.49 684.43,604.82 684.67,604.16 684.90,603.49 685.13,602.82 685.35,602.15 685.57,601.48 685.79,600.81 686.01,600.13 686.22,599.46 686.43,598.79 686.64,598.11 686.85,597.44 687.05,596.77 687.26,596.10 687.46,595.43 687.66,594.76 687.87,594.10 688.08,593.44 688.29,592.78 688.50,592.12 688.72,591.47 688.94,590.82 689.16,590.18 689.40,589.54 689.64,588.90 689.89,588.27 690.14,587.65 690.40,587.03 690.68,586.41 690.96,585.81 691.26,585.21 691.57,584.63 691.90,584.06 692.23,583.50 692.58,582.95 692.94,582.42 693.32,581.91 693.71,581.42 694.12,580.95 694.54,580.50 694.99,580.08 695.45,579.68 695.93,579.30 696.43,578.94 696.95,578.61 697.49,578.29 698.04,578.00 698.61,577.73 699.19,577.48 699.78,577.25 700.38,577.03 700.99,576.84 701.60,576.66 702.23,576.50 702.86,576.35 703.50,576.22 704.15,576.11 704.80,576.01 705.45,575.92 706.11,575.85 706.77,575.79 707.43,575.74 708.10,575.70 708.77,575.68 709.44,575.66 710.11,575.65 710.78,575.65 711.46,575.66 712.13,575.68 712.81,575.70 713.49,575.73 714.16,575.77 714.83,575.82 715.51,575.87 716.18,575.93 716.85,576.01 717.52,576.09 718.19,576.17 718.86,576.27 719.53,576.37 720.19,576.49 720.86,576.61 721.52,576.74 722.18,576.88 722.83,577.03 723.49,577.18 724.14,577.35 724.79,577.52 725.44,577.70 726.08,577.89 726.72,578.09 727.36,578.30 728.00,578.52 728.63,578.75 729.26,578.99 729.88,579.23 730.50,579.49 731.12,579.75 731.73,580.02 732.34,580.31 732.94,580.60 733.54,580.90 734.13,581.21 734.72,581.53 735.30,581.85 735.87,582.19 736.44,582.54 737.01,582.90 737.57,583.26 738.12,583.63 738.67,584.02 739.21,584.41 739.75,584.81 740.28,585.22 740.80,585.64 741.32,586.06 741.82,586.50 742.33,586.94 742.82,587.39 743.31,587.84 743.79,588.31 744.27,588.78 744.73,589.26 745.19,589.75 745.64,590.25 746.08,590.75 746.51,591.27 746.93,591.78 747.35,592.31 747.76,592.84 748.16,593.37 748.55,593.92 748.94,594.46 749.31,595.02 749.68,595.58 750.04,596.14 750.39,596.71 750.73,597.29 751.07,597.86 751.40,598.44 751.72,599.03 752.03,599.62 752.33,600.22 752.62,600.82 752.91,601.42 753.18,602.03 753.45,602.65 753.71,603.26 753.96,603.88 754.19,604.51 754.42,605.14 754.64,605.77 754.85,606.40 755.05,607.04 755.24,607.68 755.42,608.32 755.59,608.97 755.75,609.62 755.90,610.27 756.04,610.92 756.17,611.58 756.29,612.23 756.40,612.89 756.50,613.55 756.59,614.21 756.67,614.88 756.73,615.54 756.79,616.21 756.84,616.87 756.88,617.54 756.91,618.22 756.93,618.89 756.94,619.57 756.95,620.25 756.95,620.93 756.94,621.61 756.93,622.29 756.91,622.98 756.89,623.66 756.86,624.35 756.83,625.04 756.80,625.73 756.76,626.43 756.72,627.12 756.69,627.82 756.65,628.52 756.61,629.21 756.57,629.92 756.53,630.62 756.49,631.32 756.46,632.03 756.42,632.74 756.39,633.44 756.37,634.16 756.34,634.87 756.32,635.58 756.31,636.30 756.31,637.02 756.31,637.74 756.31,638.46 756.33,639.19 756.35,639.91 756.38,640.64 756.43,641.37 756.48,642.09 756.54,642.82 756.62,643.56 756.71,644.29 756.81,645.02 756.93,645.75 757.06,646.48 757.20,647.21 757.36,647.94 757.54,648.66 757.74,649.39 757.95,650.10 758.17,650.81 758.41,651.52 758.67,652.22 758.94,652.91 759.22,653.60 759.52,654.28 759.83,654.95 760.15,655.62 760.49,656.28 760.84,656.93 761.20,657.58 761.57,658.22 761.96,658.85 762.35,659.47 762.76,660.09 763.17,660.70 763.60,661.30 764.04,661.89 764.49,662.47 764.95,663.05 765.41,663.62 765.89,664.18 766.38,664.73 766.88,665.28 767.38,665.81 767.90,666.34 768.42,666.85 768.96,667.36 769.50,667.86 770.05,668.35 770.61,668.83 771.18,669.30 771.76,669.76 772.34,670.21 772.94,670.65 773.54,671.08 774.15,671.49 774.77,671.90 775.40,672.30 776.03,672.68 776.67,673.05 777.32,673.41 777.98,673.76 778.65,674.09 779.32,674.41 780.00,674.72 780.69,675.01 781.39,675.28 782.09,675.54 782.80,675.78 783.52,676.01 784.24,676.22 784.97,676.41 785.71,676.58 786.45,676.74 787.19,676.87 787.94,676.98 788.70,677.08 789.46,677.15 790.22,677.20 790.98,677.23 791.74,677.23 792.51,677.21 793.26,677.18 794.02,677.12 794.77,677.04 795.52,676.94 796.27,676.83 797.01,676.69 797.74,676.54 798.47,676.37 799.20,676.19 799.92,675.99 800.63,675.78 801.34,675.55 802.04,675.32 802.73,675.07 803.42,674.80 804.11,674.53 804.79,674.25 805.46,673.95 806.13,673.65 806.79,673.34 807.45,673.02 808.10,672.69 808.74,672.35 809.38,672.01 810.02,671.66 810.65,671.30 811.27,670.94 811.90,670.57 812.51,670.20 813.13,669.81 813.73,669.43 814.34,669.04 814.94,668.64 815.54,668.24 816.13,667.84 816.72,667.43 817.30,667.02 817.89,666.61 818.47,666.19 819.04,665.77 819.62,665.34 820.19,664.92 820.75,664.49 821.32,664.06 821.88,663.62 822.44,663.18 823.00,662.74 823.56,662.30 824.11,661.85 824.66,661.41 825.21,660.96 825.76,660.50 826.30,660.05 826.85,659.59 827.39,659.13 827.93,658.67 828.47,658.21 829.00,657.74 829.54,657.27 830.07,656.80 830.60,656.33 831.12,655.85 831.65,655.37 832.17,654.89 832.69,654.41 833.21,653.93 833.73,653.44 834.25,652.95 834.76,652.46 835.27,651.97 835.78,651.48 836.29,650.98 836.79,650.48 837.30,649.98 837.80,649.48 838.30,648.98 838.79,648.48 839.29,647.97 839.78,647.46 840.28,646.95 840.77,646.44 841.26,645.93 841.74,645.41 842.23,644.90 842.71,644.38 843.19,643.86 843.67,643.34 844.15,642.82 844.63,642.29 845.10,641.77 845.57,641.24 846.04,640.71 846.51,640.19 846.98,639.66 847.45,639.12 847.91,638.59 848.38,638.06 848.84,637.52 849.30,636.99 849.76,636.45 850.22,635.91 850.67,635.37 851.13,634.83 851.58,634.29 852.03,633.75 852.48,633.21 852.93,632.66 853.38,632.12 853.83,631.57 854.27,631.03 854.72,630.48 855.16,629.93 855.60,629.38 856.05,628.84 856.49,628.29 856.93,627.73 857.36,627.18 857.80,626.63 858.24,626.08 858.67,625.53 859.11,624.97 859.54,624.42 859.97,623.86 860.41,623.31 860.84,622.75 861.27,622.20 861.70,621.64 862.13,621.08 862.56,620.53 862.99,619.97 863.41,619.41 863.84,618.85 864.27,618.29 864.69,617.73 865.11,617.17 865.54,616.61 865.96,616.04 866.38,615.48 866.81,614.92 867.23,614.35 867.65,613.79 868.06,613.22 868.48,612.66 868.90,612.09 869.32,611.52 869.73,610.96 870.15,610.39 870.56,609.82 870.98,609.25 871.39,608.68 871.80,608.11 872.21,607.54 872.62,606.97 873.03,606.39 873.44,605.82 873.85,605.25 874.26,604.67 874.67,604.10 875.07,603.52 875.48,602.95 875.88,602.37 876.28,601.79 876.69,601.22 877.09,600.64 877.49,600.06 877.89,599.48 878.29,598.90 878.69,598.32 879.09,597.74 879.48,597.16 879.88,596.58 880.28,595.99 880.67,595.41 881.07,594.83 881.46,594.24 881.85,593.66 882.24,593.07 882.63,592.48 883.02,591.90 883.41,591.31 883.80,590.72 884.18,590.13 884.57,589.54 884.95,588.95 885.34,588.36 885.72,587.77 886.10,587.18 886.48,586.58 886.86,585.99 887.24,585.40 887.62,584.80 888.00,584.21 888.37,583.61 888.75,583.01 889.12,582.42 889.49,581.82 889.87,581.22 890.24,580.62 890.61,580.02 890.98,579.42 891.34,578.82 891.71,578.22 892.08,577.62 892.44,577.01 892.81,576.41 893.17,575.80 893.53,575.20 893.89,574.59 894.25,573.99 894.61,573.38 894.97,572.77 895.33,572.17 895.68,571.56 896.04,570.95 896.39,570.34 896.74,569.73 897.09,569.11 897.44,568.50 897.79,567.89 898.14,567.28 898.49,566.66 898.84,566.05 899.18,565.43 899.52,564.82 899.87,564.20 900.21,563.58 900.55,562.96 900.89,562.34 901.23,561.73 901.56,561.11 901.90,560.48 902.23,559.86 902.57,559.24 902.90,558.62 903.23,558.00 903.56,557.37 903.89,556.75 904.22,556.12 904.54,555.50 904.87,554.87 905.19,554.24 905.51,553.61 905.83,552.99 906.15,552.36 906.47,551.73 906.79,551.10 907.10,550.46 907.42,549.83 907.73,549.20 908.04,548.57 908.35,547.93 908.66,547.30 908.97,546.66 909.28,546.02 909.58,545.39 909.89,544.75 910.19,544.11 910.49,543.47 910.79,542.83 911.09,542.19 911.39,541.55 911.68,540.91 911.98,540.27 912.27,539.63 912.57,538.98 912.86,538.34 913.15,537.70 913.43,537.05 913.72,536.41 914.01,535.76 914.29,535.11 914.57,534.47 914.85,533.82 915.13,533.17 915.41,532.52 915.69,531.87 915.97,531.22 916.24,530.57 916.51,529.91 916.79,529.26 917.06,528.61 917.32,527.95 917.59,527.30 917.86,526.65 918.12,525.99 918.38,525.33 918.65,524.68 918.91,524.02 919.16,523.36 919.42,522.70 919.68,522.04 919.93,521.38 920.18,520.72 920.43,520.06 920.68,519.40 920.93,518.73 921.18,518.07 921.42,517.40 921.66,516.74 921.90,516.07 922.14,515.41 922.38,514.74 922.62,514.07 922.85,513.40 923.08,512.74 923.31,512.07 923.54,511.40 923.77,510.72 924.00,510.05 924.22,509.38 924.44,508.71 924.66,508.03 924.88,507.36 925.10,506.68 925.31,506.01 925.52,505.33 925.73,504.66 925.94,503.98 926.15,503.30 926.35,502.62 926.56,501.94 926.76,501.26 926.96,500.58 927.15,499.90 927.35,499.22 927.54,498.53 927.73,497.85 927.92,497.16 928.11,496.48 928.29,495.79 928.48,495.11 928.66,494.42 928.84,493.73 929.01,493.05 929.19,492.36 929.36,491.67 929.53,490.98 929.69,490.29 929.86,489.60 930.02,488.91 930.18,488.21 930.34,487.52 930.50,486.83 930.65,486.13 930.80,485.44 930.95,484.74 931.10,484.05 931.24,483.35 931.39,482.65 931.53,481.96 931.66,481.26 931.80,480.56 931.93,479.86 932.05,479.16 932.18,478.46 932.30,477.76 932.42,477.06 932.54,476.35 932.65,475.65 932.76,474.95 932.87,474.24 932.98,473.54 933.08,472.84 933.18,472.13 933.28,471.43 933.38,470.72 933.47,470.01 933.57,469.31 933.66,468.60 933.74,467.89 933.83,467.19 933.91,466.48 933.99,465.77 934.06,465.06 934.14,464.35 934.21,463.64 934.28,462.93 934.34,462.22 934.40,461.51 934.46,460.80 934.52,460.09 934.57,459.38 934.62,458.67 934.67,457.95 934.71,457.24 934.76,456.53 934.80,455.82 934.83,455.10 934.86,454.39 934.89,453.68 934.92,452.96 934.94,452.25 934.96,451.54 934.98,450.82 935.00,450.11 935.01,449.39 935.01,448.68 935.02,447.97 935.02,447.25 935.01,446.54 935.01,445.82 935.00,445.11 934.99,444.39 934.97,443.68 934.95,442.96 934.93,442.25 934.91,441.54 934.88,440.82 934.85,440.11 934.82,439.39 934.78,438.68 934.74,437.97 934.69,437.25 934.65,436.54 934.59,435.82 934.54,435.11 934.48,434.40 934.42,433.69 934.36,432.97 934.29,432.26 934.22,431.55 934.15,430.84 934.07,430.12 933.99,429.41 933.90,428.70 933.81,427.99 933.72,427.28 933.63,426.57 933.53,425.86 933.43,425.15 933.32,424.44 933.21,423.74 933.10,423.03 932.98,422.32 932.86,421.61 932.74,420.91 932.61,420.20 932.48,419.50 932.35,418.79 932.21,418.09 932.07,417.38 931.92,416.68 931.77,415.98 931.62,415.28 931.46,414.58 931.30,413.88 931.13,413.18 930.96,412.48 930.79,411.78 930.61,411.09 930.43,410.39 930.25,409.70 930.06,409.00 929.87,408.31 929.67,407.62 929.47,406.93 929.26,406.24 929.06,405.55 928.84,404.86 928.62,404.18 928.40,403.49 928.18,402.81 927.95,402.13 927.71,401.45 927.48,400.77 927.23,400.09 926.99,399.41 926.74,398.74 926.48,398.06 926.22,397.39 925.96,396.72 925.69,396.05 925.42,395.38 925.14,394.71 924.86,394.05 924.57,393.39 924.28,392.73 923.99,392.07 923.69,391.41 923.38,390.76 923.08,390.10 922.76,389.45 922.44,388.80 922.12,388.15 921.80,387.51 921.47,386.87 921.13,386.23 920.79,385.59 920.44,384.95 920.10,384.32 919.74,383.69 919.38,383.06 919.02,382.43 918.65,381.81 918.28,381.19 917.90,380.57 917.52,379.95 917.13,379.34 916.74,378.73 916.35,378.12 915.94,377.52 915.54,376.92 915.13,376.32 914.72,375.72 914.30,375.13 913.87,374.54 913.44,373.96 913.01,373.38 912.57,372.80 912.13,372.22 911.68,371.65 911.23,371.08 910.78,370.52 910.32,369.96 909.85,369.40 909.39,368.84 908.92,368.29 908.44,367.75 907.96,367.21 907.48,366.67 906.99,366.13 906.50,365.60 906.00,365.07 905.50,364.55 905.00,364.03 904.49,363.51 903.98,363.00 903.47,362.49 902.95,361.98 902.43,361.48 901.90,360.98 901.38,360.49 900.84,360.00 900.31,359.51 899.77,359.03 899.23,358.55 898.69,358.07 898.14,357.60 897.59,357.14 897.03,356.67 896.48,356.21 895.92,355.76 895.35,355.30 894.79,354.86 894.22,354.41 893.65,353.97 893.07,353.53 892.49,353.10 891.91,352.67 891.33,352.25 890.74,351.83 890.16,351.41 889.56,351.00 888.97,350.59 888.37,350.18 887.77,349.78 887.17,349.38 886.57,348.99 885.96,348.60 885.35,348.21 884.74,347.83 884.13,347.45 883.51,347.08 882.89,346.71 882.27,346.34 881.65,345.98 881.02,345.62 880.40,345.27 879.77,344.91 879.13,344.57 878.50,344.23 877.86,343.89 877.23,343.55 876.59,343.22 875.94,342.90 875.30,342.57 874.65,342.26 874.00,341.94 873.35,341.63 872.70,341.32 872.05,341.02 871.39,340.72 870.73,340.43 870.07,340.14 869.41,339.86 868.75,339.57 868.09,339.30 867.42,339.02 866.75,338.75 866.08,338.49 865.41,338.23 864.74,337.97 864.06,337.72 863.38,337.47 862.71,337.23 862.03,336.99 861.35,336.75 860.66,336.52 859.98,336.29 859.29,336.07 858.61,335.85 857.92,335.64 857.23,335.43 856.54,335.22 855.85,335.02 855.15,334.82 854.46,334.63 853.76,334.44 853.07,334.26 852.37,334.08 851.67,333.90 850.97,333.73 850.27,333.57 849.56,333.41 848.86,333.25 848.15,333.10 847.45,332.95 846.74,332.81 846.03,332.67 845.32,332.53 844.61,332.40 843.90,332.28 843.19,332.16 842.48,332.05 841.77,331.93 841.05,331.83 840.34,331.73 839.62,331.63 838.91,331.54 838.19,331.45 837.47,331.37 836.75,331.29 836.03,331.22 835.32,331.16 834.60,331.09 833.87,331.04 833.15,330.98 832.43,330.94 831.71,330.89 830.99,330.86 830.27,330.82 829.54,330.80 828.82,330.78 828.10,330.76 827.37,330.75 826.65,330.74 825.93,330.74 825.20,330.74 824.48,330.75 823.75,330.77 823.03,330.79 822.31,330.81 821.58,330.84 820.86,330.88 820.14,330.92 819.41,330.97 818.69,331.02 817.97,331.08 817.24,331.14 816.52,331.21 815.80,331.29 815.08,331.37 814.36,331.45 813.64,331.55 812.92,331.64 812.20,331.75 811.48,331.85 810.77,331.97 810.05,332.09 809.34,332.21 808.62,332.35 807.91,332.48 807.19,332.63 806.48,332.78 805.77,332.93 805.06,333.09 804.36,333.26 803.65,333.43 802.94,333.61 802.24,333.80 801.54,333.99 800.84,334.18 800.14,334.39 799.44,334.60 798.74,334.81 798.05,335.03 797.36,335.26 796.67,335.49 795.98,335.73 795.29,335.98 794.61,336.23 793.93,336.48 793.25,336.75 792.57,337.02 791.89,337.29 791.22,337.57 790.55,337.86 789.88,338.16 789.22,338.46 788.56,338.76 787.90,339.07 787.24,339.39 786.58,339.71 785.93,340.04 785.29,340.38 784.64,340.72 784.00,341.07 783.36,341.42 782.72,341.78 782.09,342.15 781.46,342.52 780.84,342.90 780.21,343.28 779.60,343.67 778.98,344.06 778.37,344.46 777.76,344.87 777.16,345.28 776.56,345.70 775.96,346.12 775.37,346.55 774.78,346.98 774.19,347.42 773.61,347.86 773.03,348.31 772.46,348.77 771.89,349.23 771.32,349.70 770.76,350.17 770.21,350.65 769.66,351.13 769.11,351.62 768.57,352.12 768.03,352.62 767.50,353.13 766.97,353.64 766.45,354.16 765.93,354.68 765.42,355.21 764.91,355.75 764.41,356.29 763.92,356.83 763.43,357.39 762.94,357.94 762.47,358.51 762.00,359.08 761.53,359.65 761.07,360.23 760.62,360.82 760.18,361.41 759.74,362.01 759.31,362.62 758.88,363.23 758.47,363.84 758.06,364.46 757.66,365.09 757.26,365.72 756.88,366.36 756.50,367.00 756.13,367.65 755.77,368.30 755.42,368.96 755.07,369.63 754.74,370.29 754.42,370.97 754.11,371.65 753.81,372.33 753.52,373.02 753.23,373.71 752.96,374.40 752.70,375.09 752.44,375.79 752.19,376.49 751.95,377.19 751.72,377.90 751.50,378.60 751.29,379.31 751.08,380.02 750.89,380.73 750.70,381.44 750.51,382.15 750.34,382.87 750.17,383.58 750.01,384.30 749.85,385.01 749.71,385.73 749.57,386.45 749.43,387.17 749.30,387.89 749.18,388.61 749.07,389.33 748.96,390.05 748.85,390.77 748.75,391.49 748.66,392.21 748.57,392.93 748.49,393.65 748.42,394.37 748.34,395.09 748.28,395.81 748.21,396.53 748.16,397.25 748.10,397.97 748.05,398.69 748.01,399.41 747.97,400.13 747.93,400.85 747.90,401.57 747.87,402.28 747.85,403.00 747.83,403.72 747.82,404.44 747.81,405.15 747.80,405.87 747.80,406.59 747.80,407.30 747.80,408.02 747.81,408.73 747.82,409.45 747.84,410.16 747.85,410.87 747.87,411.59 747.89,412.30 747.91,413.01 747.94,413.72 747.97,414.43 748.00,415.14 748.03,415.85 748.07,416.56 748.10,417.27 748.14,417.98 748.18,418.68 748.24,419.39 748.29,420.10 748.34,420.80 748.40,421.51 748.46,422.21 748.51,422.91 748.57,423.62 748.63,424.32 748.70,425.02 748.76,425.72Z"/>
<path fill-rule="nonzero" d="M287.92,236.53 288.62,236.44 289.32,236.37 290.02,236.32 290.72,236.29 291.42,236.29 292.11,236.31 292.80,236.35 293.48,236.39 294.16,236.45 294.83,236.54 295.49,236.65 296.15,236.78 296.81,236.94 297.45,237.12 298.09,237.30 298.72,237.50 299.34,237.72 299.95,237.97 300.55,238.23 301.15,238.52 301.73,238.82 302.31,239.13 302.87,239.46 303.43,239.81 303.97,240.17 304.51,240.55 305.04,240.95 305.55,241.36 306.05,241.78 306.55,242.21 307.04,242.66 307.52,243.11 307.98,243.58 308.44,244.06 308.89,244.55 309.33,245.05 309.76,245.55 310.18,246.07 310.59,246.59 311.00,247.12 311.40,247.65 311.80,248.19 312.19,248.74 312.56,249.29 312.94,249.85 313.30,250.42 313.66,250.99 314.00,251.57 314.35,252.15 314.68,252.74 315.01,253.33 315.33,253.93 315.64,254.53 315.95,255.13 316.25,255.74 316.54,256.35 316.83,256.97 317.11,257.59 317.38,258.21 317.64,258.83 317.90,259.46 318.15,260.09 318.40,260.72 318.64,261.36 318.87,262.00 319.10,262.64 319.31,263.28 319.53,263.92 319.73,264.57 319.93,265.22 320.13,265.87 320.31,266.52 320.48,267.18 320.65,267.84 320.82,268.50 320.98,269.16 321.13,269.82 321.27,270.48 321.41,271.15 321.54,271.81 321.67,272.48 321.79,273.15 321.91,273.82 322.02,274.49 322.13,275.16 322.23,275.84 322.32,276.51 322.41,277.19 322.49,277.87 322.57,278.54 322.64,279.22 322.71,279.90 322.77,280.58 322.83,281.26 322.88,281.94 322.93,282.63 322.98,283.31 323.04,283.99 323.10,284.67 323.16,285.35 323.21,286.04 323.25,286.72 323.29,287.41 323.33,288.09 323.37,288.78 323.40,289.47 323.43,290.15 323.45,290.84 323.48,291.53 323.51,292.22 323.53,292.91 323.55,293.60 323.57,294.29 323.58,294.98 323.60,295.67 323.61,296.37 323.61,297.06 323.62,297.75 323.62,298.45 323.62,299.14 323.62,299.84 323.61,300.53 323.60,301.22 323.59,301.91 323.58,302.61 323.56,303.30 323.55,303.99 323.52,304.68 323.50,305.37 323.47,306.06 323.44,306.74 323.41,307.43 323.37,308.12 323.33,308.80 323.29,309.49 323.24,310.17 323.19,310.86 323.13,311.54 323.07,312.22 323.01,312.90 322.95,313.58 322.88,314.26 322.81,314.94 322.73,315.62 322.65,316.29 322.56,316.97 322.47,317.64 322.37,318.31 322.27,318.98 322.16,319.65 322.04,320.32 321.92,320.98 321.80,321.65 321.66,322.31 321.52,322.97 321.38,323.63 321.23,324.28 321.07,324.94 320.90,325.59 320.73,326.24 320.55,326.88 320.36,327.52 320.16,328.16 319.96,328.80 319.75,329.44 319.55,330.07 319.34,330.71 319.13,331.34 318.90,331.97 318.67,332.59 318.42,333.21 318.17,333.83 317.91,334.44 317.64,335.05 317.37,335.65 317.08,336.26 316.78,336.85 316.47,337.44 316.16,338.03 315.83,338.61 315.51,339.19 315.17,339.76 314.82,340.32 314.47,340.88 314.10,341.43 313.72,341.97 313.33,342.50 312.94,343.03 312.53,343.54 312.11,344.05 311.68,344.54 311.24,345.02 310.79,345.49 310.32,345.95 309.84,346.39 309.35,346.81 308.85,347.22 308.33,347.62 307.80,347.99 307.25,348.35 306.70,348.69 306.13,349.00 305.55,349.30 304.95,349.57 304.36,349.86 303.76,350.13 303.14,350.38 302.51,350.61 301.86,350.81 301.21,350.98 300.55,351.14 299.88,351.34 299.19,351.52 298.50,351.67 297.79,351.80 297.78,352.10 298.48,352.28 299.20,352.45 299.93,352.59 300.67,352.71 301.41,352.73 302.15,352.72 302.90,352.68 303.65,352.61 304.40,352.51 305.15,352.39 305.90,352.23 306.62,352.01 307.34,351.76 308.06,351.48 308.76,351.17 309.45,350.85 310.13,350.49 310.79,350.12 311.45,349.72 312.09,349.31 312.71,348.87 313.32,348.41 313.92,347.94 314.51,347.45 315.08,346.95 315.63,346.44 316.18,345.91 316.71,345.37 317.22,344.81 317.72,344.25 318.21,343.67 318.69,343.09 319.15,342.50 319.60,341.90 320.05,341.30 320.47,340.69 320.89,340.06 321.29,339.43 321.69,338.80 322.07,338.16 322.45,337.51 322.81,336.86 323.17,336.20 323.51,335.54 323.85,334.87 324.17,334.20 324.49,333.53 324.80,332.85 325.10,332.16 325.39,331.48 325.65,330.78 325.90,330.08 326.15,329.38 326.38,328.68 326.61,327.97 326.83,327.27 327.04,326.56 327.24,325.85 327.44,325.13 327.62,324.42 327.80,323.70 327.98,322.99 328.14,322.27 328.30,321.55 328.45,320.83 328.60,320.11 328.74,319.39 328.87,318.67 329.00,317.95 329.12,317.23 329.23,316.51 329.34,315.79 329.45,315.06 329.54,314.34 329.64,313.62 329.73,312.90 329.81,312.17 329.88,311.45 329.95,310.73 330.01,310.01 330.07,309.28 330.13,308.56 330.18,307.84 330.23,307.12 330.27,306.39 330.31,305.67 330.35,304.95 330.38,304.23 330.41,303.51 330.43,302.79 330.45,302.07 330.47,301.35 330.49,300.64 330.50,299.92 330.51,299.20 330.52,298.48 330.53,297.77 330.54,297.05 330.54,296.33 330.54,295.61 330.53,294.89 330.53,294.17 330.52,293.45 330.50,292.73 330.49,292.01 330.47,291.29 330.44,290.57 330.41,289.84 330.37,289.12 330.33,288.40 330.28,287.68 330.23,286.95 330.18,286.23 330.12,285.51 330.06,284.78 329.99,284.06 329.92,283.34 329.85,282.61 329.75,281.89 329.65,281.17 329.53,280.45 329.42,279.73 329.30,279.01 329.17,278.29 329.04,277.57 328.90,276.86 328.76,276.14 328.61,275.42 328.46,274.71 328.30,273.99 328.14,273.28 327.97,272.57 327.79,271.86 327.61,271.15 327.42,270.44 327.23,269.73 327.03,269.03 326.82,268.33 326.61,267.62 326.39,266.92 326.17,266.23 325.94,265.53 325.70,264.84 325.45,264.15 325.20,263.46 324.95,262.77 324.69,262.08 324.42,261.40 324.14,260.72 323.86,260.04 323.57,259.37 323.28,258.70 322.97,258.03 322.66,257.37 322.35,256.70 322.02,256.05 321.69,255.39 321.35,254.74 321.01,254.09 320.66,253.45 320.30,252.81 319.94,252.17 319.56,251.54 319.18,250.91 318.80,250.28 318.40,249.66 318.00,249.05 317.58,248.44 317.16,247.83 316.73,247.23 316.29,246.63 315.84,246.04 315.39,245.46 314.92,244.89 314.44,244.32 313.95,243.76 313.44,243.21 312.92,242.67 312.39,242.15 311.85,241.63 311.29,241.12 310.73,240.63 310.15,240.15 309.56,239.68 308.96,239.22 308.35,238.78 307.72,238.36 307.09,237.96 306.44,237.57 305.77,237.20 305.10,236.85 304.42,236.52 303.73,236.21 303.02,235.93 302.31,235.68 301.59,235.45 300.86,235.24 300.12,235.07 299.38,234.91 298.64,234.78 297.90,234.69 297.15,234.64 296.40,234.61 295.65,234.61 294.91,234.63 294.17,234.68 293.44,234.75 292.71,234.85 291.99,234.99 291.28,235.15 290.58,235.33 289.88,235.53 289.20,235.75 288.52,235.99 287.85,236.24Z"/>
<path fill-rule="nonzero" d="M312.49,258.28 312.00,258.82 311.51,259.36 311.02,259.91 310.55,260.47 310.07,261.04 309.61,261.61 309.15,262.20 308.70,262.79 308.25,263.38 307.81,263.99 307.42,264.62 307.10,265.28 306.79,265.95 306.49,266.62 306.20,267.29 305.91,267.97 305.63,268.65 305.36,269.34 305.10,270.02 304.85,270.72 304.60,271.41 304.37,272.11 304.14,272.82 303.92,273.52 303.71,274.23 303.51,274.95 303.32,275.66 303.14,276.38 302.97,277.11 302.81,277.83 302.65,278.56 302.51,279.28 302.37,280.02 302.24,280.75 302.12,281.48 302.01,282.22 301.91,282.96 301.84,283.70 301.78,284.44 301.73,285.18 301.69,285.93 301.65,286.67 301.63,287.41 301.61,288.16 301.60,288.90 301.60,289.65 301.61,290.39 301.62,291.14 301.67,291.88 301.72,292.63 301.79,293.37 301.86,294.11 301.94,294.85 302.02,295.59 302.12,296.33 302.22,297.07 302.34,297.80 302.46,298.54 302.59,299.27 302.74,300.00 302.90,300.72 303.08,301.45 303.26,302.17 303.45,302.89 303.65,303.60 303.85,304.32 304.06,305.03 304.29,305.74 304.51,306.44 304.75,307.15 305.00,307.85 305.29,308.53 305.60,309.21 305.91,309.88 306.23,310.55 306.56,311.21 306.89,311.88 307.22,312.54 307.56,313.19 307.91,313.84 308.26,314.49 308.62,315.13 308.99,315.77 309.37,316.40 309.77,317.02 310.18,317.63 310.59,318.24 311.00,318.84 311.43,319.44 311.86,320.03 312.29,320.61 312.78,321.17 313.29,321.70 313.81,322.23 314.33,322.75 314.86,323.26 315.39,323.76 315.92,324.26 316.46,324.75 317.01,325.23 317.25,325.05 316.96,324.39 316.68,323.73 316.40,323.06 316.14,322.40 315.88,321.73 315.63,321.06 315.39,320.39 315.16,319.72 314.92,319.06 314.65,318.42 314.38,317.78 314.12,317.14 313.86,316.50 313.62,315.85 313.38,315.21 313.15,314.56 312.92,313.91 312.69,313.26 312.47,312.61 312.25,311.97 312.05,311.31 311.85,310.66 311.66,310.01 311.47,309.35 311.31,308.69 311.15,308.03 311.00,307.36 310.85,306.70 310.71,306.03 310.54,305.38 310.37,304.73 310.21,304.08 310.06,303.42 309.91,302.76 309.77,302.10 309.64,301.44 309.52,300.78 309.40,300.12 309.29,299.46 309.19,298.79 309.09,298.13 308.98,297.47 308.88,296.80 308.79,296.14 308.70,295.48 308.63,294.81 308.55,294.14 308.49,293.47 308.44,292.81 308.39,292.14 308.35,291.47 308.31,290.80 308.27,290.13 308.23,289.46 308.19,288.79 308.17,288.12 308.15,287.45 308.14,286.78 308.14,286.11 308.14,285.44 308.16,284.77 308.18,284.10 308.21,283.43 308.22,282.75 308.24,282.08 308.27,281.41 308.30,280.74 308.34,280.06 308.39,279.39 308.45,278.72 308.51,278.04 308.59,277.37 308.67,276.70 308.76,276.03 308.85,275.36 308.95,274.69 309.06,274.02 309.17,273.35 309.30,272.68 309.43,272.01 309.57,271.34 309.72,270.68 309.87,270.02 310.04,269.35 310.21,268.69 310.39,268.03 310.58,267.38 310.78,266.72 310.98,266.07 311.14,265.39 311.26,264.69 311.38,264.00 311.52,263.30 311.67,262.60 311.82,261.91 311.99,261.21 312.16,260.52 312.35,259.82 312.55,259.13 312.75,258.43Z"/>
<path fill-rule="evenodd" d="M498.94,432.50 498.93,433.08 498.91,433.67 498.87,434.25 498.83,434.83 498.77,435.41 498.70,435.99 498.62,436.57 498.53,437.14 498.42,437.71 498.30,438.27 498.18,438.83 498.04,439.39 497.88,439.94 497.72,440.49 497.55,441.03 497.37,441.56 497.17,442.09 496.97,442.61 496.75,443.12 496.52,443.63 496.29,444.12 496.04,444.61 495.78,445.10 495.52,445.57 495.24,446.03 494.96,446.48 494.67,446.93 494.37,447.36 494.06,447.79 493.74,448.20 493.41,448.60 493.08,448.99 492.73,449.37 492.38,449.74 492.03,450.09 491.67,450.43 491.30,450.77 490.92,451.08 490.54,451.39 490.15,451.68 489.76,451.96 489.36,452.23 488.96,452.48 488.55,452.72 488.14,452.95 487.72,453.16 487.30,453.36 486.88,453.54 486.45,453.71 486.02,453.87 485.58,454.01 485.15,454.14 484.71,454.25 484.27,454.35 483.83,454.44 483.38,454.51 482.94,454.56 482.49,454.60 482.05,454.63 481.60,454.64 481.15,454.64 480.70,454.62 480.26,454.59 479.81,454.54 479.36,454.48 478.92,454.40 478.48,454.31 478.03,454.20 477.59,454.08 477.16,453.95 476.72,453.80 476.29,453.63 475.86,453.46 475.43,453.26 475.01,453.06 474.59,452.84 474.17,452.60 473.76,452.35 473.36,452.09 472.96,451.81 472.56,451.52 472.17,451.22 471.79,450.90 471.41,450.57 471.04,450.23 470.67,449.88 470.31,449.51 469.96,449.13 469.62,448.74 469.29,448.34 468.96,447.92 468.64,447.50 468.33,447.06 468.03,446.62 467.74,446.16 467.46,445.70 467.19,445.22 466.92,444.74 466.67,444.24 466.43,443.74 466.19,443.23 465.97,442.71 465.76,442.19 465.56,441.66 465.37,441.12 465.19,440.57 465.03,440.02 464.87,439.46 464.73,438.90 464.60,438.34 464.48,437.77 464.37,437.19 464.27,436.61 464.19,436.03 464.12,435.45 464.06,434.86 464.01,434.27 463.97,433.68 463.95,433.09 463.94,432.50 463.94,431.91 463.96,431.32 463.98,430.73 464.02,430.14 464.07,429.55 464.14,428.96 464.21,428.38 464.30,427.80 464.40,427.22 464.52,426.65 464.64,426.08 464.78,425.51 464.92,424.95 465.08,424.39 465.26,423.84 465.44,423.30 465.63,422.76 465.84,422.23 466.05,421.71 466.28,421.19 466.52,420.68 466.77,420.18 467.03,419.69 467.30,419.21 467.57,418.74 467.86,418.27 468.16,417.82 468.47,417.38 468.79,416.94 469.11,416.52 469.44,416.11 469.79,415.71 470.14,415.33 470.50,414.95 470.86,414.59 471.23,414.24 471.61,413.90 472.00,413.58 472.39,413.26 472.79,412.97 473.20,412.68 473.61,412.41 474.02,412.15 474.45,411.91 474.87,411.68 475.30,411.47 475.73,411.27 476.17,411.09 476.61,410.92 477.06,410.76 477.50,410.62 477.95,410.50 478.41,410.39 478.86,410.29 479.31,410.21 479.77,410.15 480.23,410.10 480.68,410.06 481.14,410.04 481.60,410.04 482.06,410.05 482.51,410.08 482.97,410.12 483.43,410.18 483.88,410.25 484.33,410.34 484.78,410.44 485.23,410.56 485.67,410.69 486.12,410.84 486.55,411.00 486.99,411.18 487.42,411.37 487.85,411.57 488.27,411.79 488.69,412.02 489.10,412.27 489.51,412.53 489.92,412.81 490.31,413.09 490.70,413.40 491.09,413.71 491.47,414.04 491.84,414.38 492.20,414.73 492.56,415.09 492.91,415.47 493.25,415.85 493.59,416.25 493.91,416.66 494.23,417.08 494.54,417.51 494.84,417.96 495.13,418.41 495.41,418.87 495.68,419.34 495.94,419.82 496.19,420.31 496.44,420.80 496.67,421.31 496.89,421.82 497.10,422.34 497.30,422.86 497.49,423.40 497.67,423.94 497.83,424.48 497.99,425.03 498.13,425.59 498.26,426.15 498.38,426.71 498.49,427.28 498.59,427.85 498.68,428.43 498.75,429.00 498.81,429.58 498.86,430.16 498.90,430.75 498.93,431.33 498.94,431.92Z M500.85,431.88 500.82,431.25 500.79,430.63 500.74,430.01 500.68,429.39 500.60,428.77 500.51,428.16 500.41,427.54 500.30,426.94 500.17,426.33 500.03,425.73 499.88,425.14 499.71,424.55 499.54,423.96 499.35,423.38 499.15,422.81 498.94,422.25 498.71,421.69 498.48,421.14 498.23,420.59 497.97,420.06 497.70,419.53 497.42,419.01 497.13,418.51 496.83,418.01 496.51,417.52 496.19,417.04 495.86,416.57 495.52,416.11 495.17,415.67 494.81,415.23 494.44,414.81 494.06,414.40 493.67,414.00 493.28,413.62 492.87,413.25 492.46,412.89 492.04,412.54 491.62,412.21 491.19,411.90 490.75,411.59 490.30,411.30 489.85,411.03 489.40,410.77 488.93,410.53 488.47,410.30 488.00,410.08 487.52,409.88 487.04,409.70 486.56,409.54 486.07,409.39 485.58,409.25 485.09,409.13 484.59,409.03 484.10,408.94 483.60,408.87 483.10,408.82 482.60,408.78 482.10,408.76 481.60,408.76 481.10,408.77 480.60,408.80 480.10,408.85 479.60,408.91 479.11,408.98 478.62,409.08 478.13,409.19 477.64,409.31 477.15,409.46 476.67,409.61 476.19,409.79 475.72,409.98 475.25,410.18 474.78,410.40 474.32,410.63 473.87,410.88 473.42,411.15 472.97,411.42 472.54,411.72 472.11,412.02 471.68,412.34 471.27,412.68 470.86,413.03 470.45,413.39 470.06,413.76 469.67,414.14 469.29,414.54 468.92,414.95 468.56,415.38 468.21,415.81 467.87,416.25 467.53,416.71 467.21,417.18 466.89,417.65 466.59,418.14 466.29,418.63 466.01,419.14 465.74,419.65 465.47,420.18 465.22,420.71 464.98,421.25 464.75,421.79 464.53,422.35 464.33,422.91 464.13,423.48 463.95,424.05 463.77,424.63 463.62,425.21 463.47,425.80 463.33,426.40 463.21,426.99 463.10,427.60 463.00,428.20 462.91,428.81 462.84,429.42 462.78,430.03 462.73,430.65 462.69,431.26 462.67,431.88 462.66,432.50 462.66,433.12 462.68,433.74 462.70,434.35 462.74,434.97 462.80,435.58 462.86,436.20 462.94,436.81 463.03,437.42 463.14,438.02 463.25,438.62 463.38,439.22 463.52,439.81 463.67,440.40 463.84,440.98 464.01,441.56 464.20,442.13 464.40,442.70 464.62,443.26 464.84,443.81 465.08,444.36 465.32,444.90 465.58,445.43 465.85,445.95 466.13,446.46 466.42,446.96 466.72,447.46 467.04,447.94 467.36,448.41 467.69,448.88 468.03,449.33 468.38,449.77 468.75,450.20 469.12,450.62 469.49,451.03 469.88,451.42 470.28,451.80 470.68,452.17 471.10,452.53 471.52,452.87 471.94,453.20 472.38,453.51 472.82,453.81 473.27,454.10 473.73,454.37 474.19,454.63 474.65,454.87 475.13,455.09 475.60,455.30 476.08,455.50 476.57,455.68 477.06,455.84 477.56,455.99 478.05,456.12 478.55,456.23 479.06,456.33 479.56,456.41 480.07,456.47 480.58,456.52 481.09,456.55 481.60,456.56 482.11,456.55 482.62,456.53 483.13,456.50 483.64,456.44 484.15,456.37 484.66,456.28 485.16,456.17 485.66,456.05 486.16,455.91 486.66,455.76 487.15,455.58 487.63,455.40 488.12,455.19 488.60,454.97 489.07,454.73 489.54,454.48 490.00,454.22 490.46,453.94 490.91,453.64 491.35,453.33 491.79,453.00 492.21,452.66 492.63,452.31 493.05,451.94 493.45,451.56 493.85,451.17 494.24,450.76 494.61,450.34 494.98,449.91 495.34,449.47 495.69,449.02 496.03,448.55 496.36,448.08 496.68,447.59 496.99,447.09 497.29,446.59 497.58,446.07 497.85,445.55 498.12,445.01 498.37,444.47 498.62,443.92 498.85,443.37 499.06,442.80 499.27,442.23 499.46,441.65 499.65,441.07 499.82,440.48 499.97,439.89 500.12,439.29 500.25,438.69 500.37,438.08 500.48,437.47 500.57,436.85 500.65,436.24 500.72,435.62 500.77,435.00 500.81,434.37 500.84,433.75 500.86,433.12 500.86,432.50Z"/>
<path fill-rule="nonzero" d="M225.79,268.03 225.09,268.11 224.39,268.20 223.69,268.29 222.99,268.38 222.29,268.48 221.59,268.58 220.89,268.68 220.19,268.79 219.49,268.90 218.79,269.01 218.09,269.13 217.39,269.24 216.70,269.37 216.00,269.49 215.30,269.62 214.61,269.75 213.91,269.88 213.22,270.02 212.53,270.16 211.83,270.30 211.14,270.44 210.45,270.59 209.76,270.74 209.07,270.90 208.38,271.05 207.69,271.21 207.00,271.38 206.31,271.54 205.62,271.71 204.94,271.88 204.25,272.06 203.57,272.23 202.88,272.41 202.20,272.60 201.52,272.78 200.84,272.97 200.16,273.16 199.47,273.36 198.80,273.55 198.12,273.75 197.44,273.96 196.76,274.16 196.09,274.37 195.41,274.58 194.74,274.80 194.06,275.01 193.39,275.23 192.72,275.45 192.05,275.68 191.38,275.91 190.71,276.14 190.04,276.37 189.38,276.61 188.71,276.85 188.05,277.09 187.38,277.33 186.72,277.58 186.06,277.83 185.40,278.08 184.74,278.34 184.08,278.60 183.42,278.86 182.77,279.12 182.11,279.39 181.46,279.66 180.80,279.93 180.15,280.20 179.50,280.48 178.85,280.76 178.20,281.04 177.55,281.32 176.91,281.61 176.26,281.90 175.62,282.19 174.98,282.49 174.33,282.79 173.69,283.09 173.05,283.39 172.42,283.70 171.78,284.01 171.15,284.32 170.51,284.63 169.88,284.95 169.25,285.27 168.62,285.59 167.99,285.91 167.36,286.24 166.74,286.57 166.11,286.90 165.49,287.23 164.87,287.57 164.25,287.91 163.63,288.25 163.01,288.60 162.39,288.95 161.78,289.30 161.16,289.65 160.55,290.00 159.94,290.36 159.33,290.72 158.73,291.08 158.12,291.45 157.52,291.82 156.91,292.19 156.31,292.56 155.71,292.93 155.11,293.31 154.52,293.69 153.92,294.07 153.33,294.46 152.74,294.85 152.15,295.24 151.56,295.63 150.97,296.03 150.39,296.42 149.80,296.82 149.22,297.23 148.64,297.63 148.06,298.04 147.49,298.45 146.91,298.86 146.34,299.28 145.77,299.69 145.20,300.11 144.63,300.54 144.06,300.96 143.50,301.39 142.94,301.82 142.38,302.25 141.82,302.68 141.26,303.12 140.71,303.56 140.15,304.00 139.60,304.44 139.06,304.89 138.51,305.34 137.96,305.79 137.42,306.25 136.88,306.70 136.34,307.16 135.80,307.62 135.27,308.08 134.74,308.55 134.20,309.02 133.68,309.49 133.15,309.96 132.62,310.44 132.10,310.91 131.58,311.39 131.06,311.87 130.55,312.36 130.03,312.85 129.52,313.33 129.01,313.83 128.51,314.32 128.00,314.82 127.50,315.31 127.00,315.81 126.50,316.32 126.00,316.82 125.51,317.33 125.02,317.84 124.53,318.35 124.04,318.87 123.56,319.38 123.08,319.90 122.60,320.42 122.12,320.95 121.65,321.47 121.18,322.00 120.71,322.53 120.24,323.06 119.78,323.59 119.31,324.13 118.85,324.67 118.40,325.21 117.94,325.75 117.49,326.30 117.04,326.85 116.60,327.40 116.15,327.95 115.71,328.50 115.27,329.06 114.84,329.62 114.41,330.18 113.98,330.74 113.55,331.30 113.12,331.87 112.70,332.44 112.28,333.01 111.87,333.58 111.45,334.16 111.04,334.73 110.63,335.31 110.23,335.89 109.83,336.48 109.43,337.06 109.03,337.65 108.64,338.24 108.25,338.83 107.86,339.42 107.48,340.02 107.09,340.61 106.72,341.21 106.34,341.81 105.97,342.42 105.60,343.02 105.23,343.63 104.87,344.23 104.51,344.84 104.15,345.46 103.80,346.07 105.45,347.02 105.80,346.41 106.15,345.81 106.50,345.20 106.86,344.60 107.22,344.01 107.59,343.41 107.95,342.82 108.33,342.22 108.70,341.63 109.07,341.04 109.45,340.46 109.84,339.87 110.22,339.29 110.61,338.71 111.00,338.13 111.39,337.55 111.79,336.98 112.19,336.40 112.59,335.83 113.00,335.26 113.41,334.70 113.82,334.13 114.23,333.57 114.65,333.01 115.07,332.45 115.49,331.89 115.91,331.33 116.34,330.78 116.77,330.23 117.20,329.68 117.64,329.14 118.07,328.59 118.52,328.05 118.96,327.51 119.40,326.97 119.85,326.43 120.30,325.90 120.76,325.37 121.21,324.84 121.67,324.31 122.13,323.78 122.60,323.26 123.06,322.74 123.53,322.22 124.00,321.71 124.47,321.19 124.95,320.68 125.43,320.17 125.91,319.66 126.39,319.15 126.88,318.65 127.36,318.15 127.85,317.65 128.34,317.15 128.84,316.66 129.34,316.17 129.83,315.68 130.33,315.19 130.84,314.71 131.34,314.22 131.85,313.74 132.36,313.26 132.87,312.79 133.39,312.31 133.90,311.84 134.42,311.37 134.94,310.90 135.46,310.44 135.99,309.98 136.51,309.52 137.04,309.06 137.57,308.60 138.11,308.15 138.64,307.70 139.18,307.25 139.72,306.81 140.26,306.36 140.80,305.92 141.34,305.48 141.89,305.05 142.44,304.61 142.99,304.18 143.54,303.75 144.09,303.32 144.65,302.90 145.21,302.48 145.77,302.06 146.33,301.64 146.89,301.22 147.46,300.81 148.02,300.40 148.59,299.99 149.16,299.59 149.73,299.19 150.31,298.79 150.88,298.39 151.46,297.99 152.04,297.60 152.62,297.21 153.20,296.82 153.78,296.43 154.37,296.05 154.95,295.67 155.54,295.29 156.13,294.92 156.72,294.54 157.32,294.17 157.91,293.80 158.51,293.44 159.10,293.07 159.70,292.71 160.30,292.35 160.91,292.00 161.51,291.64 162.11,291.29 162.72,290.95 163.33,290.60 163.94,290.26 164.55,289.91 165.16,289.58 165.77,289.24 166.39,288.91 167.01,288.58 167.62,288.25 168.24,287.92 168.86,287.60 169.48,287.28 170.11,286.96 170.73,286.65 171.36,286.33 171.98,286.02 172.61,285.71 173.24,285.41 173.87,285.11 174.51,284.81 175.14,284.51 175.77,284.21 176.41,283.92 177.04,283.63 177.68,283.35 178.32,283.06 178.96,282.78 179.60,282.50 180.25,282.22 180.89,281.95 181.54,281.68 182.18,281.41 182.83,281.15 183.48,280.88 184.13,280.62 184.78,280.36 185.43,280.11 186.08,279.86 186.73,279.61 187.39,279.36 188.04,279.11 188.70,278.87 189.36,278.63 190.01,278.40 190.67,278.16 191.33,277.93 192.00,277.71 192.66,277.48 193.32,277.26 193.99,277.04 194.65,276.82 195.32,276.61 195.98,276.39 196.65,276.19 197.32,275.98 197.99,275.78 198.66,275.58 199.33,275.38 200.00,275.18 200.67,274.99 201.35,274.80 202.02,274.61 202.70,274.43 203.37,274.25 204.05,274.07 204.72,273.90 205.40,273.72 206.08,273.55 206.76,273.39 207.44,273.22 208.12,273.06 208.80,272.91 209.48,272.75 210.17,272.60 210.85,272.45 211.53,272.30 212.22,272.16 212.90,272.02 213.59,271.88 214.28,271.75 214.96,271.61 215.65,271.49 216.34,271.36 217.03,271.24 217.72,271.12 218.40,271.00 219.09,270.89 219.79,270.78 220.48,270.67 221.17,270.56 221.86,270.46 222.55,270.36 223.24,270.27 223.94,270.17 224.63,270.08 225.32,270.00 226.02,269.91Z"/>
<path fill-rule="nonzero" d="M480.36,475.87 480.65,476.51 480.93,477.15 481.22,477.78 481.50,478.42 481.78,479.06 482.06,479.71 482.34,480.35 482.61,480.99 482.88,481.64 483.15,482.28 483.42,482.93 483.69,483.57 483.95,484.22 484.21,484.87 484.47,485.52 484.73,486.17 484.99,486.82 485.24,487.47 485.49,488.12 485.74,488.77 485.99,489.43 486.24,490.08 486.48,490.74 486.72,491.39 486.96,492.05 487.20,492.71 487.44,493.36 487.67,494.02 487.90,494.68 488.13,495.34 488.36,496.00 488.59,496.66 488.81,497.33 489.03,497.99 489.25,498.65 489.47,499.32 489.69,499.98 489.90,500.65 490.11,501.31 490.32,501.98 490.53,502.65 490.74,503.32 490.94,503.99 491.14,504.65 491.34,505.32 491.54,505.99 491.74,506.67 491.93,507.34 492.13,508.01 492.32,508.68 492.50,509.36 492.69,510.03 492.88,510.70 493.06,511.38 493.24,512.05 493.42,512.73 493.59,513.41 493.77,514.08 493.94,514.76 494.11,515.44 494.28,516.12 494.45,516.80 494.61,517.48 494.78,518.16 494.94,518.84 495.10,519.52 495.25,520.20 495.41,520.88 495.56,521.56 495.72,522.25 495.87,522.93 496.01,523.61 496.16,524.30 496.30,524.98 496.45,525.67 496.59,526.35 496.72,527.04 496.86,527.72 497.00,528.41 497.13,529.10 497.26,529.78 497.39,530.47 497.52,531.16 497.64,531.85 497.77,532.54 497.89,533.22 498.01,533.91 498.13,534.60 498.24,535.29 498.36,535.98 498.47,536.67 498.58,537.36 498.69,538.05 498.80,538.75 498.90,539.44 499.01,540.13 499.11,540.82 499.21,541.51 499.31,542.21 499.40,542.90 499.50,543.59 499.59,544.29 499.68,544.98 499.77,545.67 499.86,546.37 499.95,547.06 500.03,547.76 500.11,548.45 500.19,549.15 500.27,549.84 500.35,550.54 500.43,551.23 500.50,551.93 500.57,552.62 500.64,553.32 500.71,554.02 500.78,554.71 500.85,555.41 500.91,556.11 500.97,556.80 501.03,557.50 501.09,558.20 501.15,558.89 501.21,559.59 501.26,560.29 501.31,560.99 501.36,561.69 501.41,562.38 501.46,563.08 501.51,563.78 501.55,564.48 501.59,565.18 501.64,565.88 501.68,566.57 501.71,567.27 501.75,567.97 501.78,568.67 501.82,569.37 501.85,570.07 501.88,570.77 501.91,571.47 501.94,572.17 501.96,572.87 501.99,573.57 502.01,574.27 502.03,574.97 502.05,575.67 502.07,576.37 502.08,577.07 502.10,577.77 502.11,578.47 502.13,579.17 502.14,579.87 502.15,580.57 502.15,581.27 502.16,581.97 502.17,582.67 502.17,583.37 502.17,584.07 502.17,584.77 502.17,585.47 502.17,586.17 502.16,586.87 502.16,587.57 502.15,588.27 502.15,588.97 502.14,589.67 502.13,590.37 502.11,591.07 502.10,591.77 502.09,592.47 502.07,593.17 502.05,593.87 502.03,594.57 502.01,595.27 501.99,595.97 501.97,596.67 501.94,597.37 501.92,598.07 501.89,598.77 501.86,599.47 501.83,600.16 501.80,600.86 501.77,601.56 501.74,602.26 501.70,602.96 501.67,603.66 501.63,604.36 501.59,605.06 501.55,605.76 501.51,606.46 501.47,607.16 501.43,607.86 501.38,608.56 501.34,609.26 501.29,609.95 501.24,610.65 501.19,611.35 501.14,612.05 501.09,612.75 501.04,613.45 500.98,614.15 500.93,614.84 500.87,615.54 500.81,616.24 500.75,616.94 500.69,617.64 500.63,618.33 500.57,619.03 500.51,619.73 500.44,620.43 500.38,621.12 500.31,621.82 500.24,622.52 500.17,623.22 500.10,623.91 500.03,624.61 499.96,625.31 499.88,626.00 499.81,626.70 499.73,627.40 499.66,628.09 499.58,628.79 499.50,629.48 499.42,630.18 499.34,630.88 499.25,631.57 499.17,632.27 499.09,632.96 499.00,633.66 498.91,634.35 498.83,635.05 498.74,635.74 498.65,636.44 498.56,637.13 498.46,637.83 498.37,638.52 498.28,639.22 498.18,639.91 498.09,640.60 497.99,641.30 497.89,641.99 497.79,642.69 497.69,643.38 497.59,644.07 497.49,644.77 497.38,645.46 497.28,646.15 497.17,646.84 497.07,647.54 496.96,648.23 496.85,648.92 496.74,649.61 496.63,650.31 496.52,651.00 496.40,651.69 496.29,652.38 496.18,653.07 496.06,653.76 495.94,654.45 495.83,655.14 495.71,655.83 495.59,656.53 495.47,657.22 495.35,657.91 495.23,658.60 495.10,659.29 494.98,659.98 494.85,660.66 494.73,661.35 494.60,662.04 494.47,662.73 494.34,663.42 494.21,664.11 494.08,664.80 493.95,665.49 493.82,666.17 493.68,666.86 493.55,667.55 493.41,668.24 493.28,668.93 493.14,669.61 493.00,670.30 492.86,670.99 492.72,671.67 492.58,672.36 492.44,673.05 492.30,673.73 492.15,674.42 492.01,675.10 491.86,675.79 491.72,676.48 491.57,677.16 491.42,677.85 491.27,678.53 491.12,679.22 490.97,679.90 490.82,680.58 490.67,681.27 490.52,681.95 490.36,682.64 490.21,683.32 490.05,684.00 489.90,684.69 489.74,685.37 489.58,686.05 489.42,686.73 489.26,687.42 489.10,688.10 488.94,688.78 488.78,689.46 488.61,690.14 488.45,690.83 488.29,691.51 488.12,692.19 487.95,692.87 487.79,693.55 487.62,694.23 487.45,694.91 487.28,695.59 487.11,696.27 486.94,696.95 486.77,697.63 486.59,698.31 486.42,698.99 486.24,699.67 486.07,700.35 485.89,701.03 485.72,701.70 485.54,702.38 485.36,703.06 485.18,703.74 485.00,704.41 484.82,705.09 484.64,705.77 484.46,706.45 484.28,707.12 484.09,707.80 483.91,708.48 483.72,709.15 483.54,709.83 483.35,710.50 483.16,711.18 482.98,711.86 482.79,712.53 482.60,713.21 482.41,713.88 482.22,714.55 482.02,715.23 481.83,715.90 481.64,716.58 481.44,717.25 481.25,717.92 481.06,718.60 480.86,719.27 480.66,719.94 480.47,720.62 480.27,721.29 480.07,721.96 479.87,722.63 479.67,723.31 479.47,723.98 479.27,724.65 479.06,725.32 478.86,725.99 478.66,726.66 478.45,727.33 478.25,728.00 478.04,728.67 477.84,729.34 477.63,730.01 477.42,730.68 477.22,731.35 477.01,732.02 476.80,732.69 476.59,733.36 476.38,734.03 476.16,734.70 475.95,735.37 475.74,736.03 475.53,736.70 475.31,737.37 475.10,738.04 474.88,738.71 474.67,739.37 474.45,740.04 474.23,740.71 474.02,741.37 473.80,742.04 473.58,742.71 473.36,743.37 473.14,744.04 472.92,744.70 472.70,745.37 472.47,746.03 472.25,746.70 472.03,747.36 471.80,748.03 471.58,748.69 471.35,749.36 471.13,750.02 470.90,750.68 470.68,751.35 470.45,752.01 470.22,752.67 469.99,753.34 469.76,754.00 469.53,754.66 469.30,755.32 469.07,755.99 468.84,756.65 468.61,757.31 468.38,757.97 468.14,758.63 467.91,759.29 467.68,759.96 467.44,760.62 467.21,761.28 466.97,761.94 466.73,762.60 466.50,763.26 466.26,763.92 466.02,764.58 465.78,765.24 465.54,765.90 465.30,766.56 465.06,767.21 464.82,767.87 464.58,768.53 464.34,769.19 464.10,769.85 463.85,770.51 463.61,771.16 463.37,771.82 463.12,772.48 462.88,773.14 462.63,773.79 462.39,774.45 462.14,775.11 461.89,775.76 461.64,776.42 461.40,777.08 461.15,777.73 460.90,778.39 460.65,779.04 460.40,779.70 460.15,780.35 459.90,781.01 459.65,781.66 459.39,782.32 459.14,782.97 458.89,783.63 458.64,784.28 458.38,784.93 458.13,785.59 457.87,786.24 457.62,786.89 457.36,787.55 457.11,788.20 456.85,788.85 456.59,789.51 456.33,790.16 456.08,790.81 455.82,791.46 455.56,792.11 455.30,792.77 455.04,793.42 454.78,794.07 454.52,794.72 454.26,795.37 454.00,796.02 453.73,796.67 453.47,797.32 453.21,797.97 452.95,798.62 452.68,799.27 452.42,799.92 452.15,800.57 451.89,801.22 451.62,801.87 451.36,802.52 451.09,803.17 450.82,803.82 450.56,804.47 450.29,805.12 450.02,805.76 449.75,806.41 449.48,807.06 449.21,807.71 448.94,808.36 450.79,809.12 451.06,808.48 451.33,807.83 451.60,807.18 451.87,806.53 452.14,805.88 452.40,805.23 452.67,804.58 452.94,803.93 453.21,803.28 453.47,802.63 453.74,801.98 454.00,801.33 454.27,800.68 454.53,800.03 454.80,799.38 455.06,798.72 455.33,798.07 455.59,797.42 455.85,796.77 456.11,796.12 456.38,795.46 456.64,794.81 456.90,794.16 457.16,793.51 457.42,792.85 457.68,792.20 457.94,791.55 458.19,790.89 458.45,790.24 458.71,789.59 458.97,788.93 459.22,788.28 459.48,787.62 459.74,786.97 459.99,786.31 460.25,785.66 460.50,785.00 460.75,784.35 461.01,783.69 461.26,783.04 461.51,782.38 461.77,781.72 462.02,781.07 462.27,780.41 462.52,779.75 462.77,779.10 463.02,778.44 463.27,777.78 463.52,777.13 463.76,776.47 464.01,775.81 464.26,775.15 464.50,774.49 464.75,773.84 465.00,773.18 465.24,772.52 465.49,771.86 465.73,771.20 465.97,770.54 466.22,769.88 466.46,769.22 466.70,768.56 466.94,767.90 467.18,767.24 467.42,766.58 467.66,765.92 467.90,765.26 468.14,764.60 468.38,763.93 468.62,763.27 468.85,762.61 469.09,761.95 469.32,761.29 469.56,760.62 469.80,759.96 470.03,759.30 470.26,758.64 470.50,757.97 470.73,757.31 470.96,756.65 471.19,755.98 471.42,755.32 471.65,754.65 471.88,753.99 472.11,753.32 472.34,752.66 472.57,751.99 472.80,751.33 473.02,750.66 473.25,750.00 473.47,749.33 473.70,748.67 473.92,748.00 474.15,747.33 474.37,746.67 474.59,746.00 474.82,745.33 475.04,744.67 475.26,744.00 475.48,743.33 475.70,742.66 475.92,741.99 476.13,741.33 476.35,740.66 476.57,739.99 476.79,739.32 477.00,738.65 477.22,737.98 477.43,737.31 477.65,736.64 477.86,735.97 478.07,735.30 478.28,734.63 478.49,733.96 478.71,733.29 478.92,732.62 479.12,731.95 479.33,731.28 479.54,730.61 479.75,729.93 479.96,729.26 480.16,728.59 480.37,727.92 480.57,727.24 480.78,726.57 480.98,725.90 481.18,725.22 481.38,724.55 481.59,723.88 481.79,723.20 481.99,722.53 482.19,721.86 482.38,721.18 482.58,720.51 482.78,719.83 482.98,719.16 483.17,718.48 483.37,717.80 483.56,717.13 483.75,716.45 483.95,715.78 484.14,715.10 484.33,714.42 484.52,713.75 484.71,713.07 484.90,712.39 485.09,711.72 485.28,711.04 485.47,710.36 485.65,709.68 485.84,709.00 486.02,708.32 486.21,707.65 486.39,706.97 486.57,706.29 486.75,705.61 486.94,704.93 487.12,704.25 487.30,703.57 487.47,702.89 487.65,702.21 487.83,701.53 488.01,700.85 488.18,700.17 488.36,699.49 488.53,698.80 488.70,698.12 488.88,697.44 489.05,696.76 489.22,696.08 489.39,695.39 489.56,694.71 489.73,694.03 489.90,693.35 490.06,692.66 490.23,691.98 490.39,691.30 490.56,690.61 490.72,689.93 490.89,689.24 491.05,688.56 491.21,687.87 491.37,687.19 491.53,686.50 491.69,685.82 491.85,685.13 492.00,684.45 492.16,683.76 492.31,683.08 492.47,682.39 492.62,681.70 492.78,681.02 492.93,680.33 493.08,679.64 493.23,678.96 493.38,678.27 493.53,677.58 493.67,676.89 493.82,676.21 493.97,675.52 494.11,674.83 494.26,674.14 494.40,673.45 494.54,672.76 494.68,672.07 494.82,671.38 494.96,670.70 495.10,670.01 495.24,669.32 495.38,668.63 495.51,667.94 495.65,667.25 495.78,666.55 495.91,665.86 496.05,665.17 496.18,664.48 496.31,663.79 496.44,663.10 496.57,662.41 496.69,661.72 496.82,661.02 496.95,660.33 497.07,659.64 497.19,658.95 497.32,658.25 497.44,657.56 497.56,656.87 497.68,656.17 497.80,655.48 497.92,654.79 498.03,654.09 498.15,653.40 498.26,652.71 498.38,652.01 498.49,651.32 498.60,650.62 498.71,649.93 498.82,649.23 498.93,648.54 499.04,647.84 499.15,647.15 499.25,646.45 499.36,645.76 499.46,645.06 499.57,644.36 499.67,643.67 499.77,642.97 499.87,642.27 499.97,641.58 500.07,640.88 500.16,640.18 500.26,639.49 500.35,638.79 500.45,638.09 500.54,637.39 500.63,636.70 500.72,636.00 500.81,635.30 500.90,634.60 500.99,633.90 501.07,633.21 501.16,632.51 501.24,631.81 501.32,631.11 501.41,630.41 501.49,629.71 501.57,629.01 501.64,628.31 501.72,627.61 501.80,626.91 501.87,626.21 501.95,625.52 502.02,624.82 502.09,624.12 502.16,623.41 502.23,622.71 502.30,622.01 502.37,621.31 502.43,620.61 502.50,619.91 502.56,619.21 502.62,618.51 502.69,617.81 502.75,617.11 502.81,616.41 502.86,615.71 502.92,615.00 502.98,614.30 503.03,613.60 503.08,612.90 503.14,612.20 503.19,611.49 503.24,610.79 503.29,610.09 503.33,609.39 503.38,608.69 503.42,607.98 503.47,607.28 503.51,606.58 503.55,605.88 503.59,605.17 503.63,604.47 503.67,603.77 503.70,603.06 503.74,602.36 503.77,601.66 503.80,600.95 503.83,600.25 503.86,599.55 503.89,598.84 503.92,598.14 503.94,597.44 503.97,596.73 503.99,596.03 504.01,595.33 504.03,594.62 504.05,593.92 504.07,593.21 504.08,592.51 504.10,591.81 504.11,591.10 504.13,590.40 504.14,589.69 504.15,588.99 504.15,588.29 504.16,587.58 504.16,586.88 504.17,586.17 504.17,585.47 504.17,584.77 504.17,584.06 504.17,583.36 504.17,582.65 504.16,581.95 504.15,581.24 504.15,580.54 504.14,579.84 504.13,579.13 504.11,578.43 504.10,577.72 504.08,577.02 504.07,576.32 504.05,575.61 504.03,574.91 504.01,574.20 503.99,573.50 503.96,572.80 503.94,572.09 503.91,571.39 503.88,570.68 503.85,569.98 503.82,569.28 503.78,568.57 503.75,567.87 503.71,567.17 503.67,566.46 503.63,565.76 503.59,565.06 503.55,564.35 503.50,563.65 503.46,562.95 503.41,562.25 503.36,561.54 503.31,560.84 503.25,560.14 503.20,559.44 503.14,558.73 503.09,558.03 503.03,557.33 502.97,556.63 502.90,555.93 502.84,555.22 502.77,554.52 502.70,553.82 502.63,553.12 502.56,552.42 502.49,551.72 502.42,551.02 502.34,550.32 502.26,549.62 502.18,548.92 502.10,548.22 502.02,547.52 501.93,546.82 501.84,546.12 501.76,545.42 501.67,544.72 501.57,544.02 501.48,543.32 501.38,542.63 501.29,541.93 501.19,541.23 501.09,540.53 500.98,539.83 500.88,539.14 500.77,538.44 500.67,537.74 500.56,537.05 500.44,536.35 500.33,535.66 500.21,534.96 500.10,534.27 499.98,533.57 499.86,532.88 499.73,532.18 499.61,531.49 499.48,530.80 499.36,530.10 499.23,529.41 499.09,528.72 498.96,528.03 498.82,527.34 498.69,526.64 498.55,525.95 498.40,525.26 498.26,524.57 498.12,523.88 497.97,523.19 497.82,522.50 497.67,521.82 497.52,521.13 497.36,520.44 497.20,519.75 497.05,519.07 496.88,518.38 496.72,517.69 496.56,517.01 496.39,516.32 496.22,515.64 496.05,514.95 495.88,514.27 495.71,513.59 495.53,512.90 495.35,512.22 495.17,511.54 494.99,510.86 494.80,510.18 494.62,509.50 494.43,508.82 494.24,508.14 494.05,507.46 493.85,506.78 493.66,506.11 493.46,505.43 493.26,504.75 493.06,504.08 492.86,503.40 492.65,502.73 492.44,502.06 492.23,501.38 492.02,500.71 491.81,500.04 491.59,499.37 491.37,498.70 491.15,498.03 490.93,497.36 490.71,496.69 490.48,496.02 490.25,495.35 490.02,494.69 489.79,494.02 489.56,493.36 489.32,492.69 489.08,492.03 488.84,491.36 488.60,490.70 488.36,490.04 488.11,489.38 487.86,488.72 487.61,488.06 487.36,487.40 487.10,486.74 486.85,486.09 486.59,485.43 486.33,484.78 486.07,484.12 485.80,483.47 485.54,482.81 485.27,482.16 485.00,481.51 484.72,480.86 484.45,480.21 484.17,479.56 483.90,478.91 483.61,478.27 483.33,477.62 483.05,476.97 482.76,476.33 482.47,475.69 482.18,475.05Z"/>
<path fill-rule="nonzero" d="M639.81,699.79 640.04,700.46 640.26,701.12 640.49,701.79 640.71,702.46 640.93,703.13 641.15,703.80 641.37,704.47 641.58,705.15 641.80,705.82 642.01,706.49 642.22,707.16 642.43,707.84 642.63,708.51 642.84,709.19 643.04,709.86 643.24,710.54 643.44,711.22 643.64,711.89 643.83,712.57 644.03,713.25 644.22,713.93 644.40,714.61 644.59,715.29 644.77,715.97 644.96,716.65 645.14,717.33 645.31,718.01 645.49,718.69 645.66,719.38 645.83,720.06 646.00,720.74 646.16,721.43 646.33,722.11 646.49,722.80 646.64,723.49 646.80,724.17 646.95,724.86 647.10,725.55 647.25,726.24 647.39,726.93 647.53,727.62 647.67,728.31 647.81,729.00 647.94,729.69 648.07,730.38 648.19,731.07 648.32,731.77 648.44,732.46 648.55,733.15 648.67,733.85 648.78,734.54 648.89,735.24 648.99,735.93 649.09,736.63 649.19,737.33 649.28,738.02 649.37,738.72 649.46,739.42 649.54,740.12 649.62,740.82 649.70,741.51 649.77,742.21 649.84,742.91 649.90,743.61 649.96,744.31 650.02,745.01 650.07,745.71 650.12,746.41 650.16,747.12 650.20,747.82 650.23,748.52 650.27,749.22 650.29,749.92 650.31,750.62 650.33,751.32 650.34,752.03 650.35,752.73 650.36,753.43 650.36,754.13 650.35,754.83 650.34,755.53 650.32,756.24 650.30,756.94 650.28,757.64 650.25,758.34 650.21,759.04 650.17,759.74 650.12,760.44 650.07,761.14 650.01,761.83 649.95,762.53 649.88,763.23 649.81,763.93 649.73,764.62 649.64,765.32 649.55,766.01 649.46,766.70 649.35,767.40 649.25,768.09 649.13,768.78 649.01,769.47 648.88,770.16 648.75,770.84 648.61,771.53 648.47,772.21 648.31,772.90 648.15,773.58 647.99,774.26 647.82,774.93 647.64,775.61 647.46,776.28 647.27,776.96 647.07,777.63 646.86,778.29 646.65,778.96 646.44,779.62 646.21,780.29 645.98,780.95 645.74,781.60 645.50,782.26 645.25,782.91 644.99,783.56 644.72,784.20 644.45,784.85 644.17,785.49 643.89,786.12 643.60,786.76 643.30,787.39 642.99,788.01 642.68,788.64 642.36,789.26 642.03,789.88 641.70,790.49 641.36,791.10 641.01,791.70 640.66,792.31 640.30,792.90 639.93,793.50 639.56,794.09 639.18,794.67 638.79,795.25 638.40,795.83 638.00,796.41 639.48,797.44 639.88,796.85 640.29,796.26 640.68,795.66 641.07,795.06 641.46,794.45 641.84,793.84 642.21,793.22 642.57,792.61 642.93,791.98 643.27,791.36 643.62,790.73 643.95,790.09 644.28,789.45 644.60,788.81 644.92,788.17 645.23,787.52 645.53,786.87 645.82,786.21 646.11,785.56 646.39,784.89 646.66,784.23 646.92,783.56 647.18,782.90 647.43,782.22 647.68,781.55 647.91,780.87 648.14,780.19 648.37,779.51 648.58,778.83 648.79,778.14 649.00,777.46 649.19,776.77 649.38,776.08 649.56,775.38 649.74,774.69 649.91,773.99 650.07,773.29 650.22,772.60 650.37,771.90 650.52,771.19 650.65,770.49 650.78,769.79 650.91,769.08 651.02,768.38 651.13,767.67 651.24,766.96 651.34,766.25 651.43,765.54 651.52,764.83 651.60,764.12 651.67,763.41 651.74,762.70 651.81,761.99 651.87,761.28 651.92,760.56 651.97,759.85 652.01,759.14 652.04,758.42 652.08,757.71 652.10,757.00 652.12,756.28 652.14,755.57 652.15,754.85 652.16,754.14 652.16,753.43 652.15,752.71 652.14,752.00 652.13,751.29 652.11,750.57 652.09,749.86 652.06,749.15 652.03,748.43 652.00,747.72 651.96,747.01 651.91,746.30 651.86,745.59 651.81,744.87 651.75,744.16 651.69,743.45 651.63,742.74 651.56,742.03 651.49,741.33 651.41,740.62 651.33,739.91 651.25,739.20 651.16,738.50 651.07,737.79 650.97,737.08 650.87,736.38 650.77,735.67 650.67,734.97 650.56,734.26 650.44,733.56 650.33,732.86 650.21,732.16 650.09,731.46 649.96,730.75 649.84,730.05 649.71,729.36 649.57,728.66 649.44,727.96 649.30,727.26 649.15,726.56 649.01,725.87 648.86,725.17 648.71,724.48 648.55,723.78 648.40,723.09 648.24,722.39 648.08,721.70 647.91,721.01 647.75,720.32 647.58,719.63 647.41,718.94 647.23,718.25 647.06,717.56 646.88,716.87 646.70,716.19 646.51,715.50 646.33,714.81 646.14,714.13 645.95,713.44 645.76,712.76 645.56,712.08 645.37,711.39 645.17,710.71 644.97,710.03 644.77,709.35 644.56,708.67 644.36,707.99 644.15,707.31 643.94,706.63 643.73,705.95 643.51,705.28 643.30,704.60 643.08,703.92 642.86,703.25 642.64,702.57 642.42,701.90 642.19,701.22 641.97,700.55 641.74,699.88 641.51,699.21Z"/>
<path fill-rule="nonzero" d="M711.89,632.13 712.00,632.83 712.12,633.53 712.23,634.22 712.35,634.92 712.47,635.62 712.58,636.31 712.70,637.01 712.83,637.70 712.95,638.40 713.07,639.09 713.20,639.79 713.32,640.48 713.45,641.17 713.58,641.87 713.71,642.56 713.84,643.26 713.98,643.95 714.11,644.64 714.25,645.33 714.39,646.03 714.53,646.72 714.67,647.41 714.81,648.10 714.95,648.79 715.10,649.48 715.24,650.17 715.39,650.86 715.54,651.55 715.69,652.24 715.84,652.93 715.99,653.62 716.15,654.31 716.31,655.00 716.46,655.69 716.62,656.38 716.78,657.06 716.95,657.75 717.11,658.44 717.27,659.12 717.44,659.81 717.61,660.50 717.78,661.18 717.95,661.87 718.12,662.55 718.30,663.23 718.47,663.92 718.65,664.60 718.83,665.28 719.01,665.97 719.19,666.65 719.37,667.33 719.56,668.01 719.75,668.69 719.93,669.37 720.12,670.05 720.32,670.73 720.51,671.41 720.70,672.09 720.90,672.77 721.10,673.45 721.30,674.13 721.50,674.80 721.70,675.48 721.91,676.16 722.11,676.83 722.32,677.51 722.53,678.18 722.74,678.85 722.95,679.53 723.17,680.20 723.38,680.87 723.60,681.54 723.82,682.22 724.04,682.89 724.27,683.56 724.49,684.23 724.72,684.89 724.95,685.56 725.18,686.23 725.41,686.90 725.64,687.56 725.88,688.23 726.12,688.90 726.36,689.56 726.60,690.22 726.84,690.89 727.08,691.55 727.33,692.21 727.58,692.87 727.83,693.54 728.08,694.20 728.34,694.85 728.59,695.51 728.85,696.17 729.11,696.83 729.37,697.48 729.63,698.14 729.90,698.80 730.17,699.45 730.44,700.10 730.71,700.76 730.98,701.41 731.26,702.06 731.53,702.71 731.81,703.36 732.09,704.01 732.38,704.65 732.66,705.30 732.95,705.95 733.24,706.59 733.53,707.24 733.82,707.88 734.12,708.52 734.41,709.16 734.71,709.80 735.01,710.44 735.32,711.08 735.62,711.72 735.93,712.35 736.24,712.99 736.55,713.62 736.87,714.26 737.18,714.89 737.50,715.52 737.82,716.15 738.14,716.78 738.47,717.41 738.80,718.04 739.12,718.66 739.46,719.29 739.79,719.91 740.12,720.53 740.46,721.15 740.80,721.77 741.15,722.39 741.49,723.01 741.84,723.63 742.19,724.24 742.54,724.86 742.89,725.47 743.25,726.08 743.60,726.69 743.96,727.30 744.33,727.91 744.69,728.51 745.06,729.12 745.43,729.72 745.80,730.32 746.17,730.92 746.55,731.52 746.93,732.12 747.31,732.71 747.69,733.31 748.08,733.90 748.47,734.49 748.86,735.08 749.25,735.67 749.65,736.26 750.05,736.84 750.45,737.43 750.85,738.01 751.25,738.59 751.66,739.17 752.07,739.75 752.48,740.32 752.90,740.89 753.31,741.47 753.73,742.04 754.16,742.60 754.58,743.17 755.01,743.73 755.44,744.30 755.87,744.86 756.30,745.42 756.74,745.97 757.18,746.53 757.62,747.08 758.06,747.63 758.51,748.18 758.96,748.73 759.41,749.28 759.87,749.82 760.32,750.36 760.78,750.90 761.24,751.44 761.71,751.97 762.17,752.50 762.64,753.04 763.11,753.56 763.59,754.09 764.06,754.61 764.54,755.14 765.02,755.66 765.51,756.17 765.99,756.69 766.48,757.20 766.97,757.71 767.47,758.22 767.96,758.72 768.46,759.23 768.96,759.73 769.47,760.23 769.97,760.72 770.48,761.21 770.99,761.70 771.51,762.19 772.02,762.68 772.54,763.16 773.06,763.64 773.58,764.12 774.11,764.59 774.64,765.07 775.17,765.54 775.70,766.00 776.23,766.47 776.77,766.93 777.31,767.39 777.85,767.84 778.40,768.30 778.95,768.75 779.49,769.20 780.05,769.64 780.60,770.08 781.16,770.52 781.71,770.96 782.28,771.39 782.84,771.82 783.40,772.25 783.97,772.67 784.54,773.09 785.11,773.51 785.69,773.93 786.26,774.34 786.84,774.75 787.42,775.16 788.01,775.56 788.59,775.96 789.18,776.36 789.77,776.75 790.36,777.14 790.95,777.53 791.55,777.91 792.14,778.29 792.74,778.67 793.35,779.05 793.95,779.42 794.55,779.78 795.16,780.15 795.77,780.51 796.38,780.87 797.00,781.23 797.61,781.58 798.23,781.93 798.85,782.27 799.47,782.61 800.09,782.95 800.72,783.29 801.34,783.62 801.97,783.95 802.60,784.27 803.23,784.59 804.00,783.08 803.38,782.76 802.75,782.44 802.13,782.11 801.52,781.79 800.90,781.46 800.28,781.12 799.67,780.78 799.06,780.44 798.45,780.10 797.84,779.75 797.24,779.40 796.64,779.05 796.03,778.69 795.43,778.33 794.84,777.97 794.24,777.60 793.65,777.23 793.05,776.86 792.46,776.48 791.88,776.10 791.29,775.72 790.71,775.33 790.13,774.94 789.55,774.55 788.97,774.16 788.39,773.76 787.82,773.36 787.25,772.96 786.68,772.55 786.11,772.14 785.55,771.73 784.99,771.31 784.43,770.89 783.87,770.47 783.31,770.04 782.76,769.62 782.21,769.18 781.66,768.75 781.11,768.31 780.57,767.88 780.02,767.43 779.48,766.99 778.94,766.54 778.41,766.09 777.88,765.64 777.35,765.18 776.82,764.72 776.29,764.26 775.77,763.80 775.25,763.33 774.73,762.86 774.21,762.39 773.69,761.91 773.18,761.44 772.67,760.96 772.17,760.48 771.66,759.99 771.16,759.50 770.66,759.01 770.16,758.52 769.67,758.03 769.17,757.53 768.68,757.03 768.19,756.53 767.71,756.02 767.23,755.52 766.75,755.01 766.27,754.50 765.79,753.98 765.32,753.47 764.85,752.95 764.38,752.43 763.91,751.91 763.45,751.38 762.99,750.86 762.53,750.33 762.07,749.80 761.62,749.26 761.17,748.73 760.72,748.19 760.27,747.65 759.83,747.11 759.39,746.57 758.95,746.02 758.51,745.47 758.07,744.92 757.64,744.37 757.21,743.82 756.79,743.26 756.36,742.71 755.94,742.15 755.52,741.59 755.10,741.03 754.69,740.46 754.27,739.89 753.86,739.33 753.45,738.76 753.05,738.19 752.64,737.61 752.24,737.04 751.85,736.46 751.45,735.89 751.06,735.31 750.66,734.72 750.27,734.14 749.89,733.56 749.50,732.97 749.12,732.38 748.74,731.80 748.36,731.21 747.99,730.61 747.62,730.02 747.24,729.43 746.88,728.83 746.51,728.23 746.15,727.63 745.78,727.03 745.43,726.43 745.07,725.83 744.71,725.22 744.36,724.62 744.01,724.01 743.66,723.40 743.32,722.79 742.97,722.18 742.63,721.57 742.29,720.95 741.95,720.34 741.62,719.72 741.29,719.11 740.96,718.49 740.63,717.87 740.30,717.25 739.98,716.63 739.66,716.00 739.34,715.38 739.02,714.75 738.70,714.13 738.39,713.50 738.08,712.87 737.77,712.24 737.46,711.61 737.16,710.98 736.85,710.35 736.55,709.71 736.25,709.08 735.96,708.44 735.66,707.81 735.37,707.17 735.08,706.53 734.79,705.89 734.50,705.25 734.22,704.61 733.93,703.97 733.65,703.33 733.37,702.68 733.10,702.04 732.82,701.39 732.55,700.75 732.28,700.10 732.01,699.45 731.74,698.80 731.47,698.15 731.21,697.50 730.95,696.85 730.69,696.20 730.43,695.55 730.18,694.90 729.92,694.24 729.67,693.59 729.42,692.93 729.17,692.27 728.92,691.62 728.68,690.96 728.44,690.30 728.19,689.64 727.95,688.98 727.72,688.32 727.48,687.66 727.25,687.00 727.01,686.34 726.78,685.67 726.56,685.01 726.33,684.35 726.10,683.68 725.88,683.02 725.66,682.35 725.44,681.68 725.22,681.02 725.00,680.35 724.79,679.68 724.57,679.01 724.36,678.34 724.15,677.67 723.94,677.00 723.74,676.33 723.53,675.66 723.33,674.99 723.13,674.32 722.93,673.64 722.73,672.97 722.53,672.30 722.34,671.62 722.14,670.95 721.95,670.27 721.76,669.60 721.57,668.92 721.38,668.24 721.20,667.57 721.01,666.89 720.83,666.21 720.65,665.53 720.47,664.85 720.29,664.17 720.12,663.49 719.94,662.81 719.77,662.13 719.60,661.45 719.43,660.77 719.26,660.09 719.09,659.41 718.93,658.72 718.76,658.04 718.60,657.36 718.44,656.67 718.28,655.99 718.12,655.31 717.96,654.62 717.81,653.94 717.65,653.25 717.50,652.57 717.35,651.88 717.20,651.19 717.05,650.51 716.91,649.82 716.76,649.13 716.62,648.45 716.47,647.76 716.33,647.07 716.19,646.38 716.05,645.69 715.92,645.00 715.78,644.31 715.65,643.63 715.51,642.94 715.38,642.25 715.25,641.55 715.12,640.86 715.00,640.17 714.87,639.48 714.75,638.79 714.62,638.10 714.50,637.41 714.38,636.72 714.26,636.02 714.14,635.33 714.03,634.64 713.91,633.95 713.80,633.25 713.68,632.56 713.57,631.86Z"/>
</g>
<polygon points="748.5,423 754.5,419.5 756.6,427 751,430.5" fill="#000"/>
<g class="tx">
<text x="27.9" y="388" textLength="207.13" lengthAdjust="spacingAndGlyphs" font-size="35.5">Stimulation</text>
<text x="28.8" y="424.3" textLength="89.35" lengthAdjust="spacingAndGlyphs" font-size="35.5">head</text>
<text x="328.7" y="848.1" textLength="113.98" lengthAdjust="spacingAndGlyphs" font-size="35.5">Power</text>
<text x="329.7" y="884.5" textLength="120.98" lengthAdjust="spacingAndGlyphs" font-size="35.5">button</text>
<text x="524.4" y="842.6" textLength="164.47" lengthAdjust="spacingAndGlyphs" font-size="35.5">Charging</text>
<text x="523.4" y="879" textLength="94.01" lengthAdjust="spacingAndGlyphs" font-size="35.5">point</text>
<text x="819.7" y="801" textLength="93.03" lengthAdjust="spacingAndGlyphs" font-size="35.5">Neck</text>
</g>
</svg>
</body></html>
